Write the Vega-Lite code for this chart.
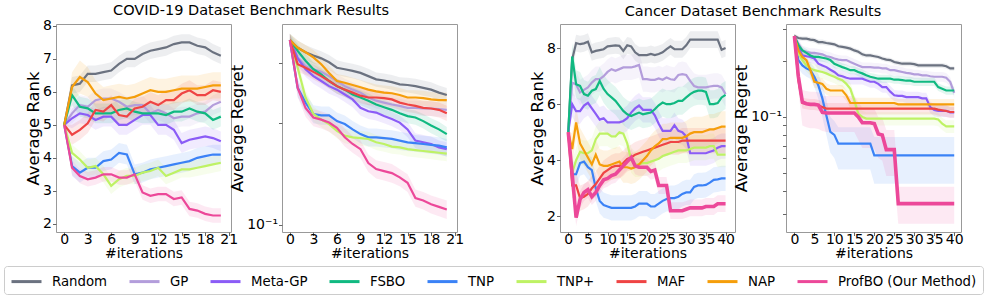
{
"$schema":"https://vega.github.io/schema/vega-lite/v6.json",
"padding":{"left":3,"top":2,"right":0,"bottom":0},
"config":{
"font":"DejaVu Sans",
"view":{"stroke":"#999999","strokeWidth":1},
"axis":{"grid":false,"domain":false,"tickColor":"#666666","tickSize":3.5,"labelFontSize":14,"labelColor":"#000000","titleColor":"#000000","titleFontWeight":"normal","labelFont":"DejaVu Sans","titleFont":"DejaVu Sans","labelOverlap":false,"labelFlush":false,"labelBound":false},
"axisX":{"titleFontSize":14,"labelPadding":-3.5,"titlePadding":0.5,"labelAngle":0},
"axisY":{"titleFontSize":16.5,"labelPadding":1,"titlePadding":1},
"title":{"fontSize":14.5,"fontWeight":"normal","color":"#000000","font":"DejaVu Sans"},
"legend":{"direction":"horizontal","columns":9,"symbolType":"M-1,0H2.75","symbolSize":256,"symbolStrokeWidth":3,"labelFontSize":13.3,"labelFont":"DejaVu Sans","labelColor":"#000000","labelOffset":23,"columnPadding":15,"padding":6,"strokeColor":"#cccccc","cornerRadius":3,"labelLimit":400,"rowPadding":0}
},
"datasets":{
"a":[
{"s":"Random","x":0,"y":5,"l":4.98,"h":5.02},{"s":"Random","x":1,"y":6.2,"l":5.95,"h":6.45},{"s":"Random","x":2,"y":6.25,"l":6,"h":6.5},{"s":"Random","x":3,"y":6.55,"l":6.3,"h":6.8},{"s":"Random","x":4,"y":6.55,"l":6.3,"h":6.8},{"s":"Random","x":5,"y":6.6,"l":6.35,"h":6.85},{"s":"Random","x":6,"y":6.65,"l":6.4,"h":6.9},{"s":"Random","x":7,"y":6.85,"l":6.6,"h":7.1},{"s":"Random","x":8,"y":7,"l":6.75,"h":7.25},{"s":"Random","x":9,"y":7,"l":6.75,"h":7.25},{"s":"Random","x":10,"y":7.15,"l":6.9,"h":7.4},{"s":"Random","x":11,"y":7.25,"l":7,"h":7.5},{"s":"Random","x":12,"y":7.3,"l":7.05,"h":7.55},{"s":"Random","x":13,"y":7.35,"l":7.1,"h":7.6},{"s":"Random","x":14,"y":7.45,"l":7.2,"h":7.7},{"s":"Random","x":15,"y":7.5,"l":7.25,"h":7.75},{"s":"Random","x":16,"y":7.5,"l":7.25,"h":7.75},{"s":"Random","x":17,"y":7.4,"l":7.15,"h":7.65},{"s":"Random","x":18,"y":7.35,"l":7.1,"h":7.6},{"s":"Random","x":19,"y":7.2,"l":6.95,"h":7.45},{"s":"Random","x":20,"y":7.1,"l":6.85,"h":7.35},
{"s":"GP","x":0,"y":5,"l":4.98,"h":5.02},{"s":"GP","x":1,"y":5.35,"l":5.05,"h":5.65},{"s":"GP","x":2,"y":5.6,"l":5.3,"h":5.9},{"s":"GP","x":3,"y":5.55,"l":5.25,"h":5.85},{"s":"GP","x":4,"y":5.75,"l":5.45,"h":6.05},{"s":"GP","x":5,"y":5.8,"l":5.5,"h":6.1},{"s":"GP","x":6,"y":5.8,"l":5.5,"h":6.1},{"s":"GP","x":7,"y":5.7,"l":5.4,"h":6},{"s":"GP","x":8,"y":5.55,"l":5.25,"h":5.85},{"s":"GP","x":9,"y":5.6,"l":5.3,"h":5.9},{"s":"GP","x":10,"y":5.6,"l":5.3,"h":5.9},{"s":"GP","x":11,"y":5.35,"l":5.05,"h":5.65},{"s":"GP","x":12,"y":5.45,"l":5.15,"h":5.75},{"s":"GP","x":13,"y":5.35,"l":5.05,"h":5.65},{"s":"GP","x":14,"y":5.2,"l":4.9,"h":5.5},{"s":"GP","x":15,"y":5.25,"l":4.95,"h":5.55},{"s":"GP","x":16,"y":5.25,"l":4.95,"h":5.55},{"s":"GP","x":17,"y":5.35,"l":5.05,"h":5.65},{"s":"GP","x":18,"y":5.4,"l":5.1,"h":5.7},{"s":"GP","x":19,"y":5.6,"l":5.3,"h":5.9},{"s":"GP","x":20,"y":5.7,"l":5.4,"h":6},
{"s":"Meta-GP","x":0,"y":5,"l":4.98,"h":5.02},{"s":"Meta-GP","x":1,"y":5.2,"l":4.9,"h":5.5},{"s":"Meta-GP","x":2,"y":5.35,"l":5.05,"h":5.65},{"s":"Meta-GP","x":3,"y":5.3,"l":5,"h":5.6},{"s":"Meta-GP","x":4,"y":5.15,"l":4.85,"h":5.45},{"s":"Meta-GP","x":5,"y":5.25,"l":4.95,"h":5.55},{"s":"Meta-GP","x":6,"y":5.25,"l":4.95,"h":5.55},{"s":"Meta-GP","x":7,"y":5,"l":4.7,"h":5.3},{"s":"Meta-GP","x":8,"y":5,"l":4.7,"h":5.3},{"s":"Meta-GP","x":9,"y":5.15,"l":4.85,"h":5.45},{"s":"Meta-GP","x":10,"y":5.3,"l":5,"h":5.6},{"s":"Meta-GP","x":11,"y":5.3,"l":5,"h":5.6},{"s":"Meta-GP","x":12,"y":5,"l":4.7,"h":5.3},{"s":"Meta-GP","x":13,"y":5,"l":4.7,"h":5.3},{"s":"Meta-GP","x":14,"y":4.85,"l":4.55,"h":5.15},{"s":"Meta-GP","x":15,"y":4.45,"l":4.15,"h":4.75},{"s":"Meta-GP","x":16,"y":4.55,"l":4.25,"h":4.85},{"s":"Meta-GP","x":17,"y":4.6,"l":4.3,"h":4.9},{"s":"Meta-GP","x":18,"y":4.65,"l":4.35,"h":4.95},{"s":"Meta-GP","x":19,"y":4.6,"l":4.3,"h":4.9},{"s":"Meta-GP","x":20,"y":4.5,"l":4.2,"h":4.8},
{"s":"FSBO","x":0,"y":5,"l":4.98,"h":5.02},{"s":"FSBO","x":1,"y":5.9,"l":5.6,"h":6.2},{"s":"FSBO","x":2,"y":5.55,"l":5.25,"h":5.85},{"s":"FSBO","x":3,"y":5.5,"l":5.2,"h":5.8},{"s":"FSBO","x":4,"y":5.35,"l":5.05,"h":5.65},{"s":"FSBO","x":5,"y":5.35,"l":5.05,"h":5.65},{"s":"FSBO","x":6,"y":5.35,"l":5.05,"h":5.65},{"s":"FSBO","x":7,"y":5.45,"l":5.15,"h":5.75},{"s":"FSBO","x":8,"y":5.5,"l":5.2,"h":5.8},{"s":"FSBO","x":9,"y":5.4,"l":5.1,"h":5.7},{"s":"FSBO","x":10,"y":5.35,"l":5.05,"h":5.65},{"s":"FSBO","x":11,"y":5.35,"l":5.05,"h":5.65},{"s":"FSBO","x":12,"y":5.35,"l":5.05,"h":5.65},{"s":"FSBO","x":13,"y":5.3,"l":5,"h":5.6},{"s":"FSBO","x":14,"y":5.4,"l":5.1,"h":5.7},{"s":"FSBO","x":15,"y":5.4,"l":5.1,"h":5.7},{"s":"FSBO","x":16,"y":5.5,"l":5.2,"h":5.8},{"s":"FSBO","x":17,"y":5.4,"l":5.1,"h":5.7},{"s":"FSBO","x":18,"y":5.35,"l":5.05,"h":5.65},{"s":"FSBO","x":19,"y":5.15,"l":4.85,"h":5.45},{"s":"FSBO","x":20,"y":5.25,"l":4.95,"h":5.55},
{"s":"TNP","x":0,"y":5,"l":4.98,"h":5.02},{"s":"TNP","x":1,"y":3.75,"l":3.45,"h":4.05},{"s":"TNP","x":2,"y":3.55,"l":3.25,"h":3.85},{"s":"TNP","x":3,"y":3.7,"l":3.4,"h":4},{"s":"TNP","x":4,"y":3.7,"l":3.4,"h":4},{"s":"TNP","x":5,"y":3.9,"l":3.6,"h":4.2},{"s":"TNP","x":6,"y":3.95,"l":3.65,"h":4.25},{"s":"TNP","x":7,"y":4.15,"l":3.85,"h":4.45},{"s":"TNP","x":8,"y":4.1,"l":3.8,"h":4.4},{"s":"TNP","x":9,"y":3.5,"l":3.2,"h":3.8},{"s":"TNP","x":10,"y":3.55,"l":3.25,"h":3.85},{"s":"TNP","x":11,"y":3.65,"l":3.35,"h":3.95},{"s":"TNP","x":12,"y":3.7,"l":3.4,"h":4},{"s":"TNP","x":13,"y":3.75,"l":3.45,"h":4.05},{"s":"TNP","x":14,"y":3.8,"l":3.5,"h":4.1},{"s":"TNP","x":15,"y":3.85,"l":3.55,"h":4.15},{"s":"TNP","x":16,"y":3.9,"l":3.6,"h":4.2},{"s":"TNP","x":17,"y":4,"l":3.7,"h":4.3},{"s":"TNP","x":18,"y":4.05,"l":3.75,"h":4.35},{"s":"TNP","x":19,"y":4.1,"l":3.8,"h":4.4},{"s":"TNP","x":20,"y":4.1,"l":3.8,"h":4.4},
{"s":"TNP+","x":0,"y":5,"l":4.98,"h":5.02},{"s":"TNP+","x":1,"y":4.15,"l":3.9,"h":4.4},{"s":"TNP+","x":2,"y":3.95,"l":3.7,"h":4.2},{"s":"TNP+","x":3,"y":3.7,"l":3.45,"h":3.95},{"s":"TNP+","x":4,"y":3.75,"l":3.5,"h":4},{"s":"TNP+","x":5,"y":3.5,"l":3.25,"h":3.75},{"s":"TNP+","x":6,"y":3.15,"l":2.9,"h":3.4},{"s":"TNP+","x":7,"y":3.35,"l":3.1,"h":3.6},{"s":"TNP+","x":8,"y":3.45,"l":3.2,"h":3.7},{"s":"TNP+","x":9,"y":3.45,"l":3.2,"h":3.7},{"s":"TNP+","x":10,"y":3.55,"l":3.3,"h":3.8},{"s":"TNP+","x":11,"y":3.6,"l":3.35,"h":3.85},{"s":"TNP+","x":12,"y":3.7,"l":3.45,"h":3.95},{"s":"TNP+","x":13,"y":3.45,"l":3.2,"h":3.7},{"s":"TNP+","x":14,"y":3.55,"l":3.3,"h":3.8},{"s":"TNP+","x":15,"y":3.65,"l":3.4,"h":3.9},{"s":"TNP+","x":16,"y":3.65,"l":3.4,"h":3.9},{"s":"TNP+","x":17,"y":3.7,"l":3.45,"h":3.95},{"s":"TNP+","x":18,"y":3.75,"l":3.5,"h":4},{"s":"TNP+","x":19,"y":3.8,"l":3.55,"h":4.05},{"s":"TNP+","x":20,"y":3.85,"l":3.6,"h":4.1},
{"s":"MAF","x":0,"y":5,"l":4.98,"h":5.02},{"s":"MAF","x":1,"y":4.7,"l":4.4,"h":5},{"s":"MAF","x":2,"y":4.85,"l":4.55,"h":5.15},{"s":"MAF","x":3,"y":5.05,"l":4.75,"h":5.35},{"s":"MAF","x":4,"y":5.45,"l":5.15,"h":5.75},{"s":"MAF","x":5,"y":5.4,"l":5.1,"h":5.7},{"s":"MAF","x":6,"y":5.6,"l":5.3,"h":5.9},{"s":"MAF","x":7,"y":5.3,"l":5,"h":5.6},{"s":"MAF","x":8,"y":5.25,"l":4.95,"h":5.55},{"s":"MAF","x":9,"y":5.5,"l":5.2,"h":5.8},{"s":"MAF","x":10,"y":5.55,"l":5.25,"h":5.85},{"s":"MAF","x":11,"y":5.7,"l":5.4,"h":6},{"s":"MAF","x":12,"y":5.6,"l":5.3,"h":5.9},{"s":"MAF","x":13,"y":5.75,"l":5.45,"h":6.05},{"s":"MAF","x":14,"y":5.75,"l":5.45,"h":6.05},{"s":"MAF","x":15,"y":5.95,"l":5.65,"h":6.25},{"s":"MAF","x":16,"y":6.05,"l":5.75,"h":6.35},{"s":"MAF","x":17,"y":5.9,"l":5.6,"h":6.2},{"s":"MAF","x":18,"y":5.9,"l":5.6,"h":6.2},{"s":"MAF","x":19,"y":6.05,"l":5.75,"h":6.35},{"s":"MAF","x":20,"y":6,"l":5.7,"h":6.3},
{"s":"NAP","x":0,"y":5,"l":4.98,"h":5.02},{"s":"NAP","x":1,"y":6.15,"l":5.7,"h":6.6},{"s":"NAP","x":2,"y":6.45,"l":5.95,"h":6.95},{"s":"NAP","x":3,"y":6.3,"l":5.85,"h":6.75},{"s":"NAP","x":4,"y":5.95,"l":5.55,"h":6.35},{"s":"NAP","x":5,"y":5.75,"l":5.35,"h":6.15},{"s":"NAP","x":6,"y":5.8,"l":5.4,"h":6.2},{"s":"NAP","x":7,"y":5.85,"l":5.45,"h":6.25},{"s":"NAP","x":8,"y":5.8,"l":5.4,"h":6.2},{"s":"NAP","x":9,"y":5.85,"l":5.45,"h":6.25},{"s":"NAP","x":10,"y":5.95,"l":5.55,"h":6.35},{"s":"NAP","x":11,"y":6.05,"l":5.65,"h":6.45},{"s":"NAP","x":12,"y":6,"l":5.6,"h":6.4},{"s":"NAP","x":13,"y":6,"l":5.6,"h":6.4},{"s":"NAP","x":14,"y":6.05,"l":5.65,"h":6.45},{"s":"NAP","x":15,"y":6.1,"l":5.7,"h":6.5},{"s":"NAP","x":16,"y":6.1,"l":5.7,"h":6.5},{"s":"NAP","x":17,"y":6.1,"l":5.7,"h":6.5},{"s":"NAP","x":18,"y":6.15,"l":5.75,"h":6.55},{"s":"NAP","x":19,"y":6.2,"l":5.8,"h":6.6},{"s":"NAP","x":20,"y":6.2,"l":5.8,"h":6.6},
{"s":"ProfBO","x":0,"y":5,"l":4.98,"h":5.02},{"s":"ProfBO","x":1,"y":3.7,"l":3.48,"h":3.92},{"s":"ProfBO","x":2,"y":3.45,"l":3.23,"h":3.67},{"s":"ProfBO","x":3,"y":3.35,"l":3.13,"h":3.57},{"s":"ProfBO","x":4,"y":3.4,"l":3.18,"h":3.62},{"s":"ProfBO","x":5,"y":3.5,"l":3.28,"h":3.72},{"s":"ProfBO","x":6,"y":3.5,"l":3.28,"h":3.72},{"s":"ProfBO","x":7,"y":3.4,"l":3.18,"h":3.62},{"s":"ProfBO","x":8,"y":3.4,"l":3.18,"h":3.62},{"s":"ProfBO","x":9,"y":3.5,"l":3.28,"h":3.72},{"s":"ProfBO","x":10,"y":2.95,"l":2.73,"h":3.17},{"s":"ProfBO","x":11,"y":2.85,"l":2.63,"h":3.07},{"s":"ProfBO","x":12,"y":2.9,"l":2.68,"h":3.12},{"s":"ProfBO","x":13,"y":2.9,"l":2.68,"h":3.12},{"s":"ProfBO","x":14,"y":2.75,"l":2.53,"h":2.97},{"s":"ProfBO","x":15,"y":2.8,"l":2.58,"h":3.02},{"s":"ProfBO","x":16,"y":2.45,"l":2.23,"h":2.67},{"s":"ProfBO","x":17,"y":2.4,"l":2.18,"h":2.62},{"s":"ProfBO","x":18,"y":2.3,"l":2.08,"h":2.52},{"s":"ProfBO","x":19,"y":2.25,"l":2.03,"h":2.47},{"s":"ProfBO","x":20,"y":2.25,"l":2.03,"h":2.47}
],
"b":[
{"s":"Random","x":0,"y":0.35,"l":0.335,"h":0.365},{"s":"Random","x":1,"y":0.332,"l":0.315,"h":0.349},{"s":"Random","x":2,"y":0.322,"l":0.306,"h":0.338},{"s":"Random","x":3,"y":0.315,"l":0.299,"h":0.331},{"s":"Random","x":4,"y":0.309,"l":0.294,"h":0.324},{"s":"Random","x":5,"y":0.301,"l":0.286,"h":0.316},{"s":"Random","x":6,"y":0.29,"l":0.276,"h":0.305},{"s":"Random","x":7,"y":0.287,"l":0.273,"h":0.301},{"s":"Random","x":8,"y":0.284,"l":0.27,"h":0.298},{"s":"Random","x":9,"y":0.28,"l":0.266,"h":0.294},{"s":"Random","x":10,"y":0.274,"l":0.26,"h":0.288},{"s":"Random","x":11,"y":0.268,"l":0.255,"h":0.281},{"s":"Random","x":12,"y":0.266,"l":0.253,"h":0.279},{"s":"Random","x":13,"y":0.263,"l":0.25,"h":0.276},{"s":"Random","x":14,"y":0.259,"l":0.246,"h":0.272},{"s":"Random","x":15,"y":0.258,"l":0.245,"h":0.271},{"s":"Random","x":16,"y":0.256,"l":0.243,"h":0.269},{"s":"Random","x":17,"y":0.253,"l":0.24,"h":0.266},{"s":"Random","x":18,"y":0.25,"l":0.238,"h":0.263},{"s":"Random","x":19,"y":0.245,"l":0.233,"h":0.257},{"s":"Random","x":20,"y":0.241,"l":0.229,"h":0.253},
{"s":"GP","x":0,"y":0.35,"l":0.335,"h":0.365},{"s":"GP","x":1,"y":0.311,"l":0.295,"h":0.327},{"s":"GP","x":2,"y":0.293,"l":0.278,"h":0.308},{"s":"GP","x":3,"y":0.287,"l":0.273,"h":0.301},{"s":"GP","x":4,"y":0.282,"l":0.268,"h":0.296},{"s":"GP","x":5,"y":0.274,"l":0.26,"h":0.288},{"s":"GP","x":6,"y":0.265,"l":0.252,"h":0.278},{"s":"GP","x":7,"y":0.256,"l":0.243,"h":0.269},{"s":"GP","x":8,"y":0.25,"l":0.238,"h":0.263},{"s":"GP","x":9,"y":0.245,"l":0.233,"h":0.257},{"s":"GP","x":10,"y":0.237,"l":0.225,"h":0.249},{"s":"GP","x":11,"y":0.232,"l":0.22,"h":0.244},{"s":"GP","x":12,"y":0.229,"l":0.218,"h":0.24},{"s":"GP","x":13,"y":0.226,"l":0.215,"h":0.237},{"s":"GP","x":14,"y":0.224,"l":0.213,"h":0.235},{"s":"GP","x":15,"y":0.221,"l":0.21,"h":0.232},{"s":"GP","x":16,"y":0.221,"l":0.21,"h":0.232},{"s":"GP","x":17,"y":0.22,"l":0.209,"h":0.231},{"s":"GP","x":18,"y":0.22,"l":0.209,"h":0.231},{"s":"GP","x":19,"y":0.219,"l":0.208,"h":0.23},{"s":"GP","x":20,"y":0.218,"l":0.207,"h":0.229},
{"s":"Meta-GP","x":0,"y":0.35,"l":0.335,"h":0.365},{"s":"Meta-GP","x":1,"y":0.309,"l":0.294,"h":0.324},{"s":"Meta-GP","x":2,"y":0.287,"l":0.273,"h":0.301},{"s":"Meta-GP","x":3,"y":0.274,"l":0.26,"h":0.288},{"s":"Meta-GP","x":4,"y":0.265,"l":0.252,"h":0.278},{"s":"Meta-GP","x":5,"y":0.256,"l":0.243,"h":0.269},{"s":"Meta-GP","x":6,"y":0.25,"l":0.238,"h":0.263},{"s":"Meta-GP","x":7,"y":0.242,"l":0.23,"h":0.254},{"s":"Meta-GP","x":8,"y":0.234,"l":0.222,"h":0.246},{"s":"Meta-GP","x":9,"y":0.221,"l":0.21,"h":0.232},{"s":"Meta-GP","x":10,"y":0.216,"l":0.205,"h":0.227},{"s":"Meta-GP","x":11,"y":0.214,"l":0.203,"h":0.225},{"s":"Meta-GP","x":12,"y":0.209,"l":0.199,"h":0.219},{"s":"Meta-GP","x":13,"y":0.205,"l":0.195,"h":0.215},{"s":"Meta-GP","x":14,"y":0.2,"l":0.19,"h":0.21},{"s":"Meta-GP","x":15,"y":0.191,"l":0.181,"h":0.201},{"s":"Meta-GP","x":16,"y":0.177,"l":0.168,"h":0.186},{"s":"Meta-GP","x":17,"y":0.175,"l":0.166,"h":0.184},{"s":"Meta-GP","x":18,"y":0.173,"l":0.164,"h":0.182},{"s":"Meta-GP","x":19,"y":0.169,"l":0.161,"h":0.177},{"s":"Meta-GP","x":20,"y":0.167,"l":0.159,"h":0.175},
{"s":"FSBO","x":0,"y":0.35,"l":0.335,"h":0.365},{"s":"FSBO","x":1,"y":0.325,"l":0.309,"h":0.341},{"s":"FSBO","x":2,"y":0.304,"l":0.289,"h":0.319},{"s":"FSBO","x":3,"y":0.287,"l":0.273,"h":0.301},{"s":"FSBO","x":4,"y":0.277,"l":0.263,"h":0.291},{"s":"FSBO","x":5,"y":0.265,"l":0.252,"h":0.278},{"s":"FSBO","x":6,"y":0.256,"l":0.243,"h":0.269},{"s":"FSBO","x":7,"y":0.25,"l":0.238,"h":0.263},{"s":"FSBO","x":8,"y":0.242,"l":0.23,"h":0.254},{"s":"FSBO","x":9,"y":0.237,"l":0.225,"h":0.249},{"s":"FSBO","x":10,"y":0.232,"l":0.22,"h":0.244},{"s":"FSBO","x":11,"y":0.226,"l":0.215,"h":0.237},{"s":"FSBO","x":12,"y":0.222,"l":0.211,"h":0.233},{"s":"FSBO","x":13,"y":0.218,"l":0.207,"h":0.229},{"s":"FSBO","x":14,"y":0.213,"l":0.202,"h":0.224},{"s":"FSBO","x":15,"y":0.209,"l":0.199,"h":0.219},{"s":"FSBO","x":16,"y":0.207,"l":0.197,"h":0.217},{"s":"FSBO","x":17,"y":0.202,"l":0.192,"h":0.212},{"s":"FSBO","x":18,"y":0.196,"l":0.186,"h":0.206},{"s":"FSBO","x":19,"y":0.191,"l":0.181,"h":0.201},{"s":"FSBO","x":20,"y":0.185,"l":0.176,"h":0.194},
{"s":"TNP","x":0,"y":0.35,"l":0.335,"h":0.365},{"s":"TNP","x":1,"y":0.253,"l":0.238,"h":0.268},{"s":"TNP","x":2,"y":0.229,"l":0.215,"h":0.243},{"s":"TNP","x":3,"y":0.212,"l":0.199,"h":0.225},{"s":"TNP","x":4,"y":0.21,"l":0.197,"h":0.223},{"s":"TNP","x":5,"y":0.21,"l":0.197,"h":0.223},{"s":"TNP","x":6,"y":0.202,"l":0.19,"h":0.214},{"s":"TNP","x":7,"y":0.198,"l":0.186,"h":0.21},{"s":"TNP","x":8,"y":0.191,"l":0.18,"h":0.202},{"s":"TNP","x":9,"y":0.185,"l":0.174,"h":0.196},{"s":"TNP","x":10,"y":0.181,"l":0.17,"h":0.192},{"s":"TNP","x":11,"y":0.181,"l":0.17,"h":0.192},{"s":"TNP","x":12,"y":0.18,"l":0.169,"h":0.191},{"s":"TNP","x":13,"y":0.179,"l":0.168,"h":0.19},{"s":"TNP","x":14,"y":0.177,"l":0.166,"h":0.188},{"s":"TNP","x":15,"y":0.175,"l":0.165,"h":0.186},{"s":"TNP","x":16,"y":0.174,"l":0.164,"h":0.184},{"s":"TNP","x":17,"y":0.173,"l":0.163,"h":0.183},{"s":"TNP","x":18,"y":0.172,"l":0.162,"h":0.182},{"s":"TNP","x":19,"y":0.171,"l":0.161,"h":0.181},{"s":"TNP","x":20,"y":0.169,"l":0.159,"h":0.179},
{"s":"TNP+","x":0,"y":0.35,"l":0.335,"h":0.365},{"s":"TNP+","x":1,"y":0.29,"l":0.276,"h":0.305},{"s":"TNP+","x":2,"y":0.237,"l":0.225,"h":0.249},{"s":"TNP+","x":3,"y":0.212,"l":0.201,"h":0.223},{"s":"TNP+","x":4,"y":0.204,"l":0.194,"h":0.214},{"s":"TNP+","x":5,"y":0.198,"l":0.188,"h":0.208},{"s":"TNP+","x":6,"y":0.189,"l":0.18,"h":0.198},{"s":"TNP+","x":7,"y":0.183,"l":0.174,"h":0.192},{"s":"TNP+","x":8,"y":0.181,"l":0.172,"h":0.19},{"s":"TNP+","x":9,"y":0.18,"l":0.171,"h":0.189},{"s":"TNP+","x":10,"y":0.179,"l":0.17,"h":0.188},{"s":"TNP+","x":11,"y":0.175,"l":0.166,"h":0.184},{"s":"TNP+","x":12,"y":0.173,"l":0.164,"h":0.182},{"s":"TNP+","x":13,"y":0.17,"l":0.162,"h":0.179},{"s":"TNP+","x":14,"y":0.169,"l":0.161,"h":0.177},{"s":"TNP+","x":15,"y":0.167,"l":0.159,"h":0.175},{"s":"TNP+","x":16,"y":0.166,"l":0.158,"h":0.174},{"s":"TNP+","x":17,"y":0.165,"l":0.157,"h":0.173},{"s":"TNP+","x":18,"y":0.164,"l":0.156,"h":0.172},{"s":"TNP+","x":19,"y":0.163,"l":0.155,"h":0.171},{"s":"TNP+","x":20,"y":0.162,"l":0.154,"h":0.17},
{"s":"MAF","x":0,"y":0.35,"l":0.335,"h":0.365},{"s":"MAF","x":1,"y":0.297,"l":0.282,"h":0.312},{"s":"MAF","x":2,"y":0.29,"l":0.276,"h":0.305},{"s":"MAF","x":3,"y":0.282,"l":0.268,"h":0.296},{"s":"MAF","x":4,"y":0.274,"l":0.26,"h":0.288},{"s":"MAF","x":5,"y":0.265,"l":0.252,"h":0.278},{"s":"MAF","x":6,"y":0.256,"l":0.243,"h":0.269},{"s":"MAF","x":7,"y":0.25,"l":0.238,"h":0.263},{"s":"MAF","x":8,"y":0.245,"l":0.233,"h":0.257},{"s":"MAF","x":9,"y":0.24,"l":0.228,"h":0.252},{"s":"MAF","x":10,"y":0.237,"l":0.225,"h":0.249},{"s":"MAF","x":11,"y":0.237,"l":0.225,"h":0.249},{"s":"MAF","x":12,"y":0.236,"l":0.224,"h":0.248},{"s":"MAF","x":13,"y":0.234,"l":0.222,"h":0.246},{"s":"MAF","x":14,"y":0.229,"l":0.218,"h":0.24},{"s":"MAF","x":15,"y":0.226,"l":0.215,"h":0.237},{"s":"MAF","x":16,"y":0.224,"l":0.213,"h":0.235},{"s":"MAF","x":17,"y":0.221,"l":0.21,"h":0.232},{"s":"MAF","x":18,"y":0.22,"l":0.209,"h":0.231},{"s":"MAF","x":19,"y":0.218,"l":0.207,"h":0.229},{"s":"MAF","x":20,"y":0.213,"l":0.202,"h":0.224},
{"s":"NAP","x":0,"y":0.35,"l":0.335,"h":0.365},{"s":"NAP","x":1,"y":0.332,"l":0.315,"h":0.349},{"s":"NAP","x":2,"y":0.322,"l":0.306,"h":0.338},{"s":"NAP","x":3,"y":0.311,"l":0.295,"h":0.327},{"s":"NAP","x":4,"y":0.297,"l":0.282,"h":0.312},{"s":"NAP","x":5,"y":0.28,"l":0.266,"h":0.294},{"s":"NAP","x":6,"y":0.265,"l":0.252,"h":0.278},{"s":"NAP","x":7,"y":0.262,"l":0.249,"h":0.275},{"s":"NAP","x":8,"y":0.258,"l":0.245,"h":0.271},{"s":"NAP","x":9,"y":0.254,"l":0.241,"h":0.267},{"s":"NAP","x":10,"y":0.25,"l":0.238,"h":0.263},{"s":"NAP","x":11,"y":0.247,"l":0.235,"h":0.259},{"s":"NAP","x":12,"y":0.245,"l":0.233,"h":0.257},{"s":"NAP","x":13,"y":0.244,"l":0.232,"h":0.256},{"s":"NAP","x":14,"y":0.241,"l":0.229,"h":0.253},{"s":"NAP","x":15,"y":0.237,"l":0.225,"h":0.249},{"s":"NAP","x":16,"y":0.237,"l":0.225,"h":0.249},{"s":"NAP","x":17,"y":0.236,"l":0.224,"h":0.248},{"s":"NAP","x":18,"y":0.234,"l":0.222,"h":0.246},{"s":"NAP","x":19,"y":0.233,"l":0.221,"h":0.245},{"s":"NAP","x":20,"y":0.233,"l":0.221,"h":0.245},
{"s":"ProfBO","x":0,"y":0.35,"l":0.335,"h":0.365},{"s":"ProfBO","x":1,"y":0.253,"l":0.238,"h":0.268},{"s":"ProfBO","x":2,"y":0.221,"l":0.208,"h":0.234},{"s":"ProfBO","x":3,"y":0.207,"l":0.195,"h":0.219},{"s":"ProfBO","x":4,"y":0.204,"l":0.192,"h":0.216},{"s":"ProfBO","x":5,"y":0.2,"l":0.188,"h":0.212},{"s":"ProfBO","x":6,"y":0.193,"l":0.181,"h":0.205},{"s":"ProfBO","x":7,"y":0.181,"l":0.17,"h":0.192},{"s":"ProfBO","x":8,"y":0.173,"l":0.163,"h":0.183},{"s":"ProfBO","x":9,"y":0.167,"l":0.157,"h":0.177},{"s":"ProfBO","x":10,"y":0.152,"l":0.143,"h":0.161},{"s":"ProfBO","x":11,"y":0.146,"l":0.137,"h":0.155},{"s":"ProfBO","x":12,"y":0.144,"l":0.135,"h":0.153},{"s":"ProfBO","x":13,"y":0.142,"l":0.133,"h":0.151},{"s":"ProfBO","x":14,"y":0.138,"l":0.13,"h":0.146},{"s":"ProfBO","x":15,"y":0.133,"l":0.125,"h":0.141},{"s":"ProfBO","x":16,"y":0.12,"l":0.113,"h":0.127},{"s":"ProfBO","x":17,"y":0.118,"l":0.111,"h":0.125},{"s":"ProfBO","x":18,"y":0.115,"l":0.108,"h":0.122},{"s":"ProfBO","x":19,"y":0.113,"l":0.106,"h":0.12},{"s":"ProfBO","x":20,"y":0.111,"l":0.104,"h":0.118}
],
"c":[
{"s":"Random","x":0,"y":5,"l":4.95,"h":5.05},{"s":"Random","x":1,"y":7.6,"l":7.3,"h":7.9},{"s":"Random","x":2,"y":8.18,"l":7.88,"h":8.48},{"s":"Random","x":3,"y":8.14,"l":7.84,"h":8.44},{"s":"Random","x":4,"y":8.17,"l":7.87,"h":8.47},{"s":"Random","x":5,"y":8.23,"l":7.93,"h":8.53},{"s":"Random","x":6,"y":7.85,"l":7.55,"h":8.15},{"s":"Random","x":7,"y":7.9,"l":7.6,"h":8.2},{"s":"Random","x":8,"y":7.93,"l":7.63,"h":8.23},{"s":"Random","x":9,"y":7.96,"l":7.66,"h":8.26},{"s":"Random","x":10,"y":8.06,"l":7.76,"h":8.36},{"s":"Random","x":11,"y":8.08,"l":7.78,"h":8.38},{"s":"Random","x":12,"y":8.1,"l":7.8,"h":8.4},{"s":"Random","x":13,"y":8.08,"l":7.78,"h":8.38},{"s":"Random","x":14,"y":7.9,"l":7.6,"h":8.2},{"s":"Random","x":15,"y":8.1,"l":7.8,"h":8.4},{"s":"Random","x":16,"y":8.06,"l":7.76,"h":8.36},{"s":"Random","x":17,"y":7.85,"l":7.55,"h":8.15},{"s":"Random","x":18,"y":7.75,"l":7.45,"h":8.05},{"s":"Random","x":19,"y":7.75,"l":7.45,"h":8.05},{"s":"Random","x":20,"y":7.75,"l":7.45,"h":8.05},{"s":"Random","x":21,"y":7.79,"l":7.49,"h":8.09},{"s":"Random","x":22,"y":7.75,"l":7.45,"h":8.05},{"s":"Random","x":23,"y":7.79,"l":7.49,"h":8.09},{"s":"Random","x":24,"y":7.85,"l":7.55,"h":8.15},{"s":"Random","x":25,"y":7.96,"l":7.66,"h":8.26},{"s":"Random","x":26,"y":8.06,"l":7.76,"h":8.36},{"s":"Random","x":27,"y":7.96,"l":7.66,"h":8.26},{"s":"Random","x":28,"y":7.96,"l":7.66,"h":8.26},{"s":"Random","x":29,"y":7.96,"l":7.66,"h":8.26},{"s":"Random","x":30,"y":8.1,"l":7.8,"h":8.4},{"s":"Random","x":31,"y":8.3,"l":8,"h":8.6},{"s":"Random","x":32,"y":8.3,"l":8,"h":8.6},{"s":"Random","x":33,"y":8.3,"l":8,"h":8.6},{"s":"Random","x":34,"y":8.3,"l":8,"h":8.6},{"s":"Random","x":35,"y":8.3,"l":8,"h":8.6},{"s":"Random","x":36,"y":8.3,"l":8,"h":8.6},{"s":"Random","x":37,"y":8.3,"l":8,"h":8.6},{"s":"Random","x":38,"y":8.3,"l":8,"h":8.6},{"s":"Random","x":39,"y":7.94,"l":7.64,"h":8.24},{"s":"Random","x":40,"y":8,"l":7.7,"h":8.3},
{"s":"GP","x":0,"y":5,"l":4.95,"h":5.05},{"s":"GP","x":1,"y":6.77,"l":6.32,"h":7.22},{"s":"GP","x":2,"y":6.7,"l":6.25,"h":7.15},{"s":"GP","x":3,"y":6.42,"l":5.97,"h":6.87},{"s":"GP","x":4,"y":6.51,"l":6.06,"h":6.96},{"s":"GP","x":5,"y":6.6,"l":6.15,"h":7.05},{"s":"GP","x":6,"y":6.77,"l":6.32,"h":7.22},{"s":"GP","x":7,"y":6.89,"l":6.44,"h":7.34},{"s":"GP","x":8,"y":6.89,"l":6.44,"h":7.34},{"s":"GP","x":9,"y":7,"l":6.55,"h":7.45},{"s":"GP","x":10,"y":7.15,"l":6.7,"h":7.6},{"s":"GP","x":11,"y":7.25,"l":6.8,"h":7.7},{"s":"GP","x":12,"y":7.19,"l":6.74,"h":7.64},{"s":"GP","x":13,"y":7.25,"l":6.8,"h":7.7},{"s":"GP","x":14,"y":7.31,"l":6.86,"h":7.76},{"s":"GP","x":15,"y":7.31,"l":6.86,"h":7.76},{"s":"GP","x":16,"y":7.31,"l":6.86,"h":7.76},{"s":"GP","x":17,"y":7.35,"l":6.9,"h":7.8},{"s":"GP","x":18,"y":7.4,"l":6.95,"h":7.85},{"s":"GP","x":19,"y":6.89,"l":6.44,"h":7.34},{"s":"GP","x":20,"y":6.89,"l":6.44,"h":7.34},{"s":"GP","x":21,"y":6.87,"l":6.42,"h":7.32},{"s":"GP","x":22,"y":6.87,"l":6.42,"h":7.32},{"s":"GP","x":23,"y":6.92,"l":6.47,"h":7.37},{"s":"GP","x":24,"y":6.87,"l":6.42,"h":7.32},{"s":"GP","x":25,"y":6.95,"l":6.5,"h":7.4},{"s":"GP","x":26,"y":6.89,"l":6.44,"h":7.34},{"s":"GP","x":27,"y":6.87,"l":6.42,"h":7.32},{"s":"GP","x":28,"y":7.04,"l":6.59,"h":7.49},{"s":"GP","x":29,"y":7.07,"l":6.62,"h":7.52},{"s":"GP","x":30,"y":7.04,"l":6.59,"h":7.49},{"s":"GP","x":31,"y":6.83,"l":6.38,"h":7.28},{"s":"GP","x":32,"y":6.65,"l":6.2,"h":7.1},{"s":"GP","x":33,"y":6.6,"l":6.15,"h":7.05},{"s":"GP","x":34,"y":6.6,"l":6.15,"h":7.05},{"s":"GP","x":35,"y":6.6,"l":6.15,"h":7.05},{"s":"GP","x":36,"y":6.63,"l":6.18,"h":7.08},{"s":"GP","x":37,"y":6.65,"l":6.2,"h":7.1},{"s":"GP","x":38,"y":6.65,"l":6.2,"h":7.1},{"s":"GP","x":39,"y":6.6,"l":6.15,"h":7.05},{"s":"GP","x":40,"y":6.36,"l":5.91,"h":6.81},
{"s":"Meta-GP","x":0,"y":5,"l":4.95,"h":5.05},{"s":"Meta-GP","x":1,"y":6,"l":5.55,"h":6.45},{"s":"Meta-GP","x":2,"y":5.75,"l":5.3,"h":6.2},{"s":"Meta-GP","x":3,"y":5.75,"l":5.3,"h":6.2},{"s":"Meta-GP","x":4,"y":5.95,"l":5.5,"h":6.4},{"s":"Meta-GP","x":5,"y":6.05,"l":5.6,"h":6.5},{"s":"Meta-GP","x":6,"y":5.85,"l":5.4,"h":6.3},{"s":"Meta-GP","x":7,"y":5.65,"l":5.2,"h":6.1},{"s":"Meta-GP","x":8,"y":5.45,"l":5,"h":5.9},{"s":"Meta-GP","x":9,"y":5.5,"l":5.05,"h":5.95},{"s":"Meta-GP","x":10,"y":5.35,"l":4.9,"h":5.8},{"s":"Meta-GP","x":11,"y":5.35,"l":4.9,"h":5.8},{"s":"Meta-GP","x":12,"y":5.35,"l":4.9,"h":5.8},{"s":"Meta-GP","x":13,"y":5.35,"l":4.9,"h":5.8},{"s":"Meta-GP","x":14,"y":5.4,"l":4.95,"h":5.85},{"s":"Meta-GP","x":15,"y":5.5,"l":5.05,"h":5.95},{"s":"Meta-GP","x":16,"y":5.7,"l":5.25,"h":6.15},{"s":"Meta-GP","x":17,"y":5.85,"l":5.4,"h":6.3},{"s":"Meta-GP","x":18,"y":5.95,"l":5.5,"h":6.4},{"s":"Meta-GP","x":19,"y":5.8,"l":5.35,"h":6.25},{"s":"Meta-GP","x":20,"y":5.8,"l":5.35,"h":6.25},{"s":"Meta-GP","x":21,"y":5.8,"l":5.35,"h":6.25},{"s":"Meta-GP","x":22,"y":5.6,"l":5.15,"h":6.05},{"s":"Meta-GP","x":23,"y":5.3,"l":4.85,"h":5.75},{"s":"Meta-GP","x":24,"y":5.05,"l":4.6,"h":5.5},{"s":"Meta-GP","x":25,"y":5.05,"l":4.6,"h":5.5},{"s":"Meta-GP","x":26,"y":5.05,"l":4.6,"h":5.5},{"s":"Meta-GP","x":27,"y":5.25,"l":4.8,"h":5.7},{"s":"Meta-GP","x":28,"y":5.05,"l":4.6,"h":5.5},{"s":"Meta-GP","x":29,"y":5,"l":4.55,"h":5.45},{"s":"Meta-GP","x":30,"y":4.85,"l":4.4,"h":5.3},{"s":"Meta-GP","x":31,"y":4.25,"l":3.8,"h":4.7},{"s":"Meta-GP","x":32,"y":4.25,"l":3.8,"h":4.7},{"s":"Meta-GP","x":33,"y":4.25,"l":3.8,"h":4.7},{"s":"Meta-GP","x":34,"y":4.25,"l":3.8,"h":4.7},{"s":"Meta-GP","x":35,"y":4.25,"l":3.8,"h":4.7},{"s":"Meta-GP","x":36,"y":4.3,"l":3.85,"h":4.75},{"s":"Meta-GP","x":37,"y":4.35,"l":3.9,"h":4.8},{"s":"Meta-GP","x":38,"y":4.45,"l":4,"h":4.9},{"s":"Meta-GP","x":39,"y":4.5,"l":4.05,"h":4.95},{"s":"Meta-GP","x":40,"y":4.5,"l":4.05,"h":4.95},
{"s":"FSBO","x":0,"y":5,"l":4.95,"h":5.05},{"s":"FSBO","x":1,"y":7.7,"l":7.2,"h":8.2},{"s":"FSBO","x":2,"y":6.71,"l":6.21,"h":7.21},{"s":"FSBO","x":3,"y":6.65,"l":6.15,"h":7.15},{"s":"FSBO","x":4,"y":6.36,"l":5.86,"h":6.86},{"s":"FSBO","x":5,"y":6.3,"l":5.8,"h":6.8},{"s":"FSBO","x":6,"y":6.48,"l":5.98,"h":6.98},{"s":"FSBO","x":7,"y":6.54,"l":6.04,"h":7.04},{"s":"FSBO","x":8,"y":6.83,"l":6.33,"h":7.33},{"s":"FSBO","x":9,"y":6.54,"l":6.04,"h":7.04},{"s":"FSBO","x":10,"y":6.36,"l":5.86,"h":6.86},{"s":"FSBO","x":11,"y":6.24,"l":5.74,"h":6.74},{"s":"FSBO","x":12,"y":6.12,"l":5.62,"h":6.62},{"s":"FSBO","x":13,"y":5.94,"l":5.44,"h":6.44},{"s":"FSBO","x":14,"y":5.76,"l":5.26,"h":6.26},{"s":"FSBO","x":15,"y":5.64,"l":5.14,"h":6.14},{"s":"FSBO","x":16,"y":5.58,"l":5.08,"h":6.08},{"s":"FSBO","x":17,"y":5.64,"l":5.14,"h":6.14},{"s":"FSBO","x":18,"y":5.7,"l":5.2,"h":6.2},{"s":"FSBO","x":19,"y":5.64,"l":5.14,"h":6.14},{"s":"FSBO","x":20,"y":5.67,"l":5.17,"h":6.17},{"s":"FSBO","x":21,"y":5.7,"l":5.2,"h":6.2},{"s":"FSBO","x":22,"y":5.82,"l":5.32,"h":6.32},{"s":"FSBO","x":23,"y":5.96,"l":5.46,"h":6.46},{"s":"FSBO","x":24,"y":6.06,"l":5.56,"h":6.56},{"s":"FSBO","x":25,"y":6,"l":5.5,"h":6.5},{"s":"FSBO","x":26,"y":6,"l":5.5,"h":6.5},{"s":"FSBO","x":27,"y":6.04,"l":5.54,"h":6.54},{"s":"FSBO","x":28,"y":6.12,"l":5.62,"h":6.62},{"s":"FSBO","x":29,"y":6.12,"l":5.62,"h":6.62},{"s":"FSBO","x":30,"y":6.24,"l":5.74,"h":6.74},{"s":"FSBO","x":31,"y":6.36,"l":5.86,"h":6.86},{"s":"FSBO","x":32,"y":6.44,"l":5.94,"h":6.94},{"s":"FSBO","x":33,"y":6.48,"l":5.98,"h":6.98},{"s":"FSBO","x":34,"y":6.48,"l":5.98,"h":6.98},{"s":"FSBO","x":35,"y":6.44,"l":5.94,"h":6.94},{"s":"FSBO","x":36,"y":6,"l":5.5,"h":6.5},{"s":"FSBO","x":37,"y":6,"l":5.5,"h":6.5},{"s":"FSBO","x":38,"y":6.04,"l":5.54,"h":6.54},{"s":"FSBO","x":39,"y":6.24,"l":5.74,"h":6.74},{"s":"FSBO","x":40,"y":6.33,"l":5.83,"h":6.83},
{"s":"TNP","x":0,"y":5,"l":4.95,"h":5.05},{"s":"TNP","x":1,"y":3.5,"l":3.05,"h":3.95},{"s":"TNP","x":2,"y":3.5,"l":3.05,"h":3.95},{"s":"TNP","x":3,"y":3.9,"l":3.45,"h":4.35},{"s":"TNP","x":4,"y":3.95,"l":3.5,"h":4.4},{"s":"TNP","x":5,"y":3.75,"l":3.3,"h":4.2},{"s":"TNP","x":6,"y":3.65,"l":3.2,"h":4.1},{"s":"TNP","x":7,"y":3,"l":2.55,"h":3.45},{"s":"TNP","x":8,"y":2.55,"l":2.1,"h":3},{"s":"TNP","x":9,"y":2.4,"l":1.95,"h":2.85},{"s":"TNP","x":10,"y":2.35,"l":1.9,"h":2.8},{"s":"TNP","x":11,"y":2.3,"l":1.85,"h":2.75},{"s":"TNP","x":12,"y":2.3,"l":1.85,"h":2.75},{"s":"TNP","x":13,"y":2.3,"l":1.85,"h":2.75},{"s":"TNP","x":14,"y":2.3,"l":1.85,"h":2.75},{"s":"TNP","x":15,"y":2.3,"l":1.85,"h":2.75},{"s":"TNP","x":16,"y":2.3,"l":1.85,"h":2.75},{"s":"TNP","x":17,"y":2.35,"l":1.9,"h":2.8},{"s":"TNP","x":18,"y":2.45,"l":2,"h":2.9},{"s":"TNP","x":19,"y":2.45,"l":2,"h":2.9},{"s":"TNP","x":20,"y":2.45,"l":2,"h":2.9},{"s":"TNP","x":21,"y":2.35,"l":1.9,"h":2.8},{"s":"TNP","x":22,"y":2.35,"l":1.9,"h":2.8},{"s":"TNP","x":23,"y":2.45,"l":2,"h":2.9},{"s":"TNP","x":24,"y":2.55,"l":2.1,"h":3},{"s":"TNP","x":25,"y":2.62,"l":2.17,"h":3.07},{"s":"TNP","x":26,"y":2.65,"l":2.2,"h":3.1},{"s":"TNP","x":27,"y":2.65,"l":2.2,"h":3.1},{"s":"TNP","x":28,"y":2.7,"l":2.25,"h":3.15},{"s":"TNP","x":29,"y":2.8,"l":2.35,"h":3.25},{"s":"TNP","x":30,"y":2.85,"l":2.4,"h":3.3},{"s":"TNP","x":31,"y":2.85,"l":2.4,"h":3.3},{"s":"TNP","x":32,"y":3.05,"l":2.6,"h":3.5},{"s":"TNP","x":33,"y":3.1,"l":2.65,"h":3.55},{"s":"TNP","x":34,"y":3.1,"l":2.65,"h":3.55},{"s":"TNP","x":35,"y":3.12,"l":2.67,"h":3.57},{"s":"TNP","x":36,"y":3.2,"l":2.75,"h":3.65},{"s":"TNP","x":37,"y":3.3,"l":2.85,"h":3.75},{"s":"TNP","x":38,"y":3.32,"l":2.87,"h":3.77},{"s":"TNP","x":39,"y":3.35,"l":2.9,"h":3.8},{"s":"TNP","x":40,"y":3.35,"l":2.9,"h":3.8},
{"s":"TNP+","x":0,"y":5,"l":4.95,"h":5.05},{"s":"TNP+","x":1,"y":3.55,"l":3.1,"h":4},{"s":"TNP+","x":2,"y":4,"l":3.55,"h":4.45},{"s":"TNP+","x":3,"y":4.3,"l":3.85,"h":4.75},{"s":"TNP+","x":4,"y":4.25,"l":3.8,"h":4.7},{"s":"TNP+","x":5,"y":4.25,"l":3.8,"h":4.7},{"s":"TNP+","x":6,"y":4.35,"l":3.9,"h":4.8},{"s":"TNP+","x":7,"y":4.75,"l":4.3,"h":5.2},{"s":"TNP+","x":8,"y":4.95,"l":4.5,"h":5.4},{"s":"TNP+","x":9,"y":4.95,"l":4.5,"h":5.4},{"s":"TNP+","x":10,"y":4.95,"l":4.5,"h":5.4},{"s":"TNP+","x":11,"y":4.85,"l":4.4,"h":5.3},{"s":"TNP+","x":12,"y":4.85,"l":4.4,"h":5.3},{"s":"TNP+","x":13,"y":5,"l":4.55,"h":5.45},{"s":"TNP+","x":14,"y":4.95,"l":4.5,"h":5.4},{"s":"TNP+","x":15,"y":4.6,"l":4.15,"h":5.05},{"s":"TNP+","x":16,"y":4,"l":3.55,"h":4.45},{"s":"TNP+","x":17,"y":3.85,"l":3.4,"h":4.3},{"s":"TNP+","x":18,"y":3.85,"l":3.4,"h":4.3},{"s":"TNP+","x":19,"y":3.9,"l":3.45,"h":4.35},{"s":"TNP+","x":20,"y":3.9,"l":3.45,"h":4.35},{"s":"TNP+","x":21,"y":3.95,"l":3.5,"h":4.4},{"s":"TNP+","x":22,"y":4,"l":3.55,"h":4.45},{"s":"TNP+","x":23,"y":4.05,"l":3.6,"h":4.5},{"s":"TNP+","x":24,"y":4.15,"l":3.7,"h":4.6},{"s":"TNP+","x":25,"y":4.2,"l":3.75,"h":4.65},{"s":"TNP+","x":26,"y":4.25,"l":3.8,"h":4.7},{"s":"TNP+","x":27,"y":4.3,"l":3.85,"h":4.75},{"s":"TNP+","x":28,"y":4.35,"l":3.9,"h":4.8},{"s":"TNP+","x":29,"y":4.35,"l":3.9,"h":4.8},{"s":"TNP+","x":30,"y":4.35,"l":3.9,"h":4.8},{"s":"TNP+","x":31,"y":4.4,"l":3.95,"h":4.85},{"s":"TNP+","x":32,"y":4.45,"l":4,"h":4.9},{"s":"TNP+","x":33,"y":4.45,"l":4,"h":4.9},{"s":"TNP+","x":34,"y":4.45,"l":4,"h":4.9},{"s":"TNP+","x":35,"y":4.45,"l":4,"h":4.9},{"s":"TNP+","x":36,"y":4.5,"l":4.05,"h":4.95},{"s":"TNP+","x":37,"y":4.5,"l":4.05,"h":4.95},{"s":"TNP+","x":38,"y":4.2,"l":3.75,"h":4.65},{"s":"TNP+","x":39,"y":4.2,"l":3.75,"h":4.65},{"s":"TNP+","x":40,"y":4.2,"l":3.75,"h":4.65},
{"s":"MAF","x":0,"y":5,"l":4.95,"h":5.05},{"s":"MAF","x":1,"y":3.1,"l":2.65,"h":3.55},{"s":"MAF","x":2,"y":3.1,"l":2.65,"h":3.55},{"s":"MAF","x":3,"y":2.65,"l":2.2,"h":3.1},{"s":"MAF","x":4,"y":2.7,"l":2.25,"h":3.15},{"s":"MAF","x":5,"y":2.8,"l":2.35,"h":3.25},{"s":"MAF","x":6,"y":3,"l":2.55,"h":3.45},{"s":"MAF","x":7,"y":3.15,"l":2.7,"h":3.6},{"s":"MAF","x":8,"y":3.35,"l":2.9,"h":3.8},{"s":"MAF","x":9,"y":3.55,"l":3.1,"h":4},{"s":"MAF","x":10,"y":3.65,"l":3.2,"h":4.1},{"s":"MAF","x":11,"y":3.75,"l":3.3,"h":4.2},{"s":"MAF","x":12,"y":3.8,"l":3.35,"h":4.25},{"s":"MAF","x":13,"y":3.8,"l":3.35,"h":4.25},{"s":"MAF","x":14,"y":3.9,"l":3.45,"h":4.35},{"s":"MAF","x":15,"y":4.05,"l":3.6,"h":4.5},{"s":"MAF","x":16,"y":4.1,"l":3.65,"h":4.55},{"s":"MAF","x":17,"y":4.2,"l":3.75,"h":4.65},{"s":"MAF","x":18,"y":4.25,"l":3.8,"h":4.7},{"s":"MAF","x":19,"y":4.3,"l":3.85,"h":4.75},{"s":"MAF","x":20,"y":4.35,"l":3.9,"h":4.8},{"s":"MAF","x":21,"y":4.4,"l":3.95,"h":4.85},{"s":"MAF","x":22,"y":4.45,"l":4,"h":4.9},{"s":"MAF","x":23,"y":4.5,"l":4.05,"h":4.95},{"s":"MAF","x":24,"y":4.55,"l":4.1,"h":5},{"s":"MAF","x":25,"y":4.6,"l":4.15,"h":5.05},{"s":"MAF","x":26,"y":4.65,"l":4.2,"h":5.1},{"s":"MAF","x":27,"y":4.65,"l":4.2,"h":5.1},{"s":"MAF","x":28,"y":4.65,"l":4.2,"h":5.1},{"s":"MAF","x":29,"y":4.7,"l":4.25,"h":5.15},{"s":"MAF","x":30,"y":4.7,"l":4.25,"h":5.15},{"s":"MAF","x":31,"y":4.7,"l":4.25,"h":5.15},{"s":"MAF","x":32,"y":4.7,"l":4.25,"h":5.15},{"s":"MAF","x":33,"y":4.7,"l":4.25,"h":5.15},{"s":"MAF","x":34,"y":4.7,"l":4.25,"h":5.15},{"s":"MAF","x":35,"y":4.7,"l":4.25,"h":5.15},{"s":"MAF","x":36,"y":4.7,"l":4.25,"h":5.15},{"s":"MAF","x":37,"y":4.7,"l":4.25,"h":5.15},{"s":"MAF","x":38,"y":4.7,"l":4.25,"h":5.15},{"s":"MAF","x":39,"y":4.7,"l":4.25,"h":5.15},{"s":"MAF","x":40,"y":4.7,"l":4.25,"h":5.15},
{"s":"NAP","x":0,"y":5,"l":4.95,"h":5.05},{"s":"NAP","x":1,"y":4.4,"l":3.85,"h":4.95},{"s":"NAP","x":2,"y":5.35,"l":4.8,"h":5.9},{"s":"NAP","x":3,"y":4.6,"l":4.05,"h":5.15},{"s":"NAP","x":4,"y":4.35,"l":3.8,"h":4.9},{"s":"NAP","x":5,"y":4.1,"l":3.55,"h":4.65},{"s":"NAP","x":6,"y":3.85,"l":3.3,"h":4.4},{"s":"NAP","x":7,"y":4.2,"l":3.65,"h":4.75},{"s":"NAP","x":8,"y":3.85,"l":3.3,"h":4.4},{"s":"NAP","x":9,"y":3.8,"l":3.25,"h":4.35},{"s":"NAP","x":10,"y":3.8,"l":3.25,"h":4.35},{"s":"NAP","x":11,"y":3.85,"l":3.3,"h":4.4},{"s":"NAP","x":12,"y":3.9,"l":3.35,"h":4.45},{"s":"NAP","x":13,"y":3.95,"l":3.4,"h":4.5},{"s":"NAP","x":14,"y":3.75,"l":3.2,"h":4.3},{"s":"NAP","x":15,"y":3.75,"l":3.2,"h":4.3},{"s":"NAP","x":16,"y":3.7,"l":3.15,"h":4.25},{"s":"NAP","x":17,"y":3.75,"l":3.2,"h":4.3},{"s":"NAP","x":18,"y":3.85,"l":3.3,"h":4.4},{"s":"NAP","x":19,"y":4,"l":3.45,"h":4.55},{"s":"NAP","x":20,"y":4.15,"l":3.6,"h":4.7},{"s":"NAP","x":21,"y":4.35,"l":3.8,"h":4.9},{"s":"NAP","x":22,"y":4.5,"l":3.95,"h":5.05},{"s":"NAP","x":23,"y":4.6,"l":4.05,"h":5.15},{"s":"NAP","x":24,"y":4.75,"l":4.2,"h":5.3},{"s":"NAP","x":25,"y":4.75,"l":4.2,"h":5.3},{"s":"NAP","x":26,"y":4.8,"l":4.25,"h":5.35},{"s":"NAP","x":27,"y":4.8,"l":4.25,"h":5.35},{"s":"NAP","x":28,"y":4.8,"l":4.25,"h":5.35},{"s":"NAP","x":29,"y":4.8,"l":4.25,"h":5.35},{"s":"NAP","x":30,"y":4.85,"l":4.3,"h":5.4},{"s":"NAP","x":31,"y":4.95,"l":4.4,"h":5.5},{"s":"NAP","x":32,"y":5,"l":4.45,"h":5.55},{"s":"NAP","x":33,"y":5,"l":4.45,"h":5.55},{"s":"NAP","x":34,"y":5,"l":4.45,"h":5.55},{"s":"NAP","x":35,"y":5.05,"l":4.5,"h":5.6},{"s":"NAP","x":36,"y":5.1,"l":4.55,"h":5.65},{"s":"NAP","x":37,"y":5.1,"l":4.55,"h":5.65},{"s":"NAP","x":38,"y":5.15,"l":4.6,"h":5.7},{"s":"NAP","x":39,"y":5.2,"l":4.65,"h":5.75},{"s":"NAP","x":40,"y":5.2,"l":4.65,"h":5.75},
{"s":"ProfBO","x":0,"y":5,"l":4.95,"h":5.05},{"s":"ProfBO","x":1,"y":3.5,"l":3.2,"h":3.8},{"s":"ProfBO","x":2,"y":1.95,"l":1.65,"h":2.25},{"s":"ProfBO","x":3,"y":2.6,"l":2.3,"h":2.9},{"s":"ProfBO","x":4,"y":2.85,"l":2.55,"h":3.15},{"s":"ProfBO","x":5,"y":2.95,"l":2.65,"h":3.25},{"s":"ProfBO","x":6,"y":2.7,"l":2.4,"h":3},{"s":"ProfBO","x":7,"y":2.85,"l":2.55,"h":3.15},{"s":"ProfBO","x":8,"y":3.1,"l":2.8,"h":3.4},{"s":"ProfBO","x":9,"y":3.3,"l":3,"h":3.6},{"s":"ProfBO","x":10,"y":3.35,"l":3.05,"h":3.65},{"s":"ProfBO","x":11,"y":3.45,"l":3.15,"h":3.75},{"s":"ProfBO","x":12,"y":3.5,"l":3.2,"h":3.8},{"s":"ProfBO","x":13,"y":3.65,"l":3.35,"h":3.95},{"s":"ProfBO","x":14,"y":3.8,"l":3.5,"h":4.1},{"s":"ProfBO","x":15,"y":3.95,"l":3.65,"h":4.25},{"s":"ProfBO","x":16,"y":4.1,"l":3.8,"h":4.4},{"s":"ProfBO","x":17,"y":3.8,"l":3.5,"h":4.1},{"s":"ProfBO","x":18,"y":3.75,"l":3.45,"h":4.05},{"s":"ProfBO","x":19,"y":3.75,"l":3.45,"h":4.05},{"s":"ProfBO","x":20,"y":3.75,"l":3.45,"h":4.05},{"s":"ProfBO","x":21,"y":3.6,"l":3.3,"h":3.9},{"s":"ProfBO","x":22,"y":3.65,"l":3.35,"h":3.95},{"s":"ProfBO","x":23,"y":3.1,"l":2.8,"h":3.4},{"s":"ProfBO","x":24,"y":3.1,"l":2.8,"h":3.4},{"s":"ProfBO","x":25,"y":3.1,"l":2.8,"h":3.4},{"s":"ProfBO","x":26,"y":2.2,"l":1.9,"h":2.5},{"s":"ProfBO","x":27,"y":2.2,"l":1.9,"h":2.5},{"s":"ProfBO","x":28,"y":2.2,"l":1.9,"h":2.5},{"s":"ProfBO","x":29,"y":2.2,"l":1.9,"h":2.5},{"s":"ProfBO","x":30,"y":2.25,"l":1.95,"h":2.55},{"s":"ProfBO","x":31,"y":2.3,"l":2,"h":2.6},{"s":"ProfBO","x":32,"y":2.3,"l":2,"h":2.6},{"s":"ProfBO","x":33,"y":2.3,"l":2,"h":2.6},{"s":"ProfBO","x":34,"y":2.3,"l":2,"h":2.6},{"s":"ProfBO","x":35,"y":2.35,"l":2.05,"h":2.65},{"s":"ProfBO","x":36,"y":2.35,"l":2.05,"h":2.65},{"s":"ProfBO","x":37,"y":2.35,"l":2.05,"h":2.65},{"s":"ProfBO","x":38,"y":2.45,"l":2.15,"h":2.75},{"s":"ProfBO","x":39,"y":2.45,"l":2.15,"h":2.75},{"s":"ProfBO","x":40,"y":2.45,"l":2.15,"h":2.75}
],
"d":[
{"s":"Random","x":0,"y":0.274,"l":0.266,"h":0.282},{"s":"Random","x":1,"y":0.267,"l":0.259,"h":0.275},{"s":"Random","x":2,"y":0.265,"l":0.257,"h":0.273},{"s":"Random","x":3,"y":0.265,"l":0.257,"h":0.273},{"s":"Random","x":4,"y":0.262,"l":0.254,"h":0.27},{"s":"Random","x":5,"y":0.26,"l":0.252,"h":0.268},{"s":"Random","x":6,"y":0.254,"l":0.246,"h":0.262},{"s":"Random","x":7,"y":0.254,"l":0.246,"h":0.262},{"s":"Random","x":8,"y":0.251,"l":0.243,"h":0.259},{"s":"Random","x":9,"y":0.249,"l":0.242,"h":0.256},{"s":"Random","x":10,"y":0.247,"l":0.24,"h":0.254},{"s":"Random","x":11,"y":0.241,"l":0.234,"h":0.248},{"s":"Random","x":12,"y":0.239,"l":0.232,"h":0.246},{"s":"Random","x":13,"y":0.237,"l":0.23,"h":0.244},{"s":"Random","x":14,"y":0.234,"l":0.227,"h":0.241},{"s":"Random","x":15,"y":0.229,"l":0.222,"h":0.236},{"s":"Random","x":16,"y":0.225,"l":0.218,"h":0.232},{"s":"Random","x":17,"y":0.218,"l":0.211,"h":0.225},{"s":"Random","x":18,"y":0.215,"l":0.209,"h":0.221},{"s":"Random","x":19,"y":0.215,"l":0.209,"h":0.221},{"s":"Random","x":20,"y":0.213,"l":0.207,"h":0.219},{"s":"Random","x":21,"y":0.211,"l":0.205,"h":0.217},{"s":"Random","x":22,"y":0.207,"l":0.201,"h":0.213},{"s":"Random","x":23,"y":0.204,"l":0.198,"h":0.21},{"s":"Random","x":24,"y":0.203,"l":0.197,"h":0.209},{"s":"Random","x":25,"y":0.198,"l":0.192,"h":0.204},{"s":"Random","x":26,"y":0.196,"l":0.19,"h":0.202},{"s":"Random","x":27,"y":0.194,"l":0.188,"h":0.2},{"s":"Random","x":28,"y":0.194,"l":0.188,"h":0.2},{"s":"Random","x":29,"y":0.194,"l":0.188,"h":0.2},{"s":"Random","x":30,"y":0.193,"l":0.187,"h":0.199},{"s":"Random","x":31,"y":0.19,"l":0.184,"h":0.196},{"s":"Random","x":32,"y":0.19,"l":0.184,"h":0.196},{"s":"Random","x":33,"y":0.19,"l":0.184,"h":0.196},{"s":"Random","x":34,"y":0.19,"l":0.184,"h":0.196},{"s":"Random","x":35,"y":0.19,"l":0.184,"h":0.196},{"s":"Random","x":36,"y":0.19,"l":0.184,"h":0.196},{"s":"Random","x":37,"y":0.19,"l":0.184,"h":0.196},{"s":"Random","x":38,"y":0.188,"l":0.182,"h":0.194},{"s":"Random","x":39,"y":0.183,"l":0.178,"h":0.188},{"s":"Random","x":40,"y":0.183,"l":0.178,"h":0.188},
{"s":"GP","x":0,"y":0.274,"l":0.266,"h":0.282},{"s":"GP","x":1,"y":0.249,"l":0.234,"h":0.264},{"s":"GP","x":2,"y":0.229,"l":0.215,"h":0.243},{"s":"GP","x":3,"y":0.225,"l":0.212,"h":0.239},{"s":"GP","x":4,"y":0.222,"l":0.209,"h":0.235},{"s":"GP","x":5,"y":0.222,"l":0.209,"h":0.235},{"s":"GP","x":6,"y":0.22,"l":0.207,"h":0.233},{"s":"GP","x":7,"y":0.218,"l":0.205,"h":0.231},{"s":"GP","x":8,"y":0.213,"l":0.2,"h":0.226},{"s":"GP","x":9,"y":0.211,"l":0.198,"h":0.224},{"s":"GP","x":10,"y":0.207,"l":0.195,"h":0.219},{"s":"GP","x":11,"y":0.204,"l":0.192,"h":0.216},{"s":"GP","x":12,"y":0.203,"l":0.191,"h":0.215},{"s":"GP","x":13,"y":0.203,"l":0.191,"h":0.215},{"s":"GP","x":14,"y":0.198,"l":0.186,"h":0.21},{"s":"GP","x":15,"y":0.194,"l":0.182,"h":0.206},{"s":"GP","x":16,"y":0.19,"l":0.179,"h":0.201},{"s":"GP","x":17,"y":0.186,"l":0.175,"h":0.197},{"s":"GP","x":18,"y":0.186,"l":0.175,"h":0.197},{"s":"GP","x":19,"y":0.186,"l":0.175,"h":0.197},{"s":"GP","x":20,"y":0.185,"l":0.174,"h":0.196},{"s":"GP","x":21,"y":0.185,"l":0.174,"h":0.196},{"s":"GP","x":22,"y":0.183,"l":0.172,"h":0.194},{"s":"GP","x":23,"y":0.183,"l":0.172,"h":0.194},{"s":"GP","x":24,"y":0.179,"l":0.168,"h":0.19},{"s":"GP","x":25,"y":0.179,"l":0.168,"h":0.19},{"s":"GP","x":26,"y":0.177,"l":0.166,"h":0.188},{"s":"GP","x":27,"y":0.175,"l":0.165,"h":0.186},{"s":"GP","x":28,"y":0.173,"l":0.163,"h":0.183},{"s":"GP","x":29,"y":0.172,"l":0.162,"h":0.182},{"s":"GP","x":30,"y":0.17,"l":0.16,"h":0.18},{"s":"GP","x":31,"y":0.17,"l":0.16,"h":0.18},{"s":"GP","x":32,"y":0.168,"l":0.158,"h":0.178},{"s":"GP","x":33,"y":0.168,"l":0.158,"h":0.178},{"s":"GP","x":34,"y":0.166,"l":0.156,"h":0.176},{"s":"GP","x":35,"y":0.165,"l":0.155,"h":0.175},{"s":"GP","x":36,"y":0.165,"l":0.155,"h":0.175},{"s":"GP","x":37,"y":0.165,"l":0.155,"h":0.175},{"s":"GP","x":38,"y":0.163,"l":0.153,"h":0.173},{"s":"GP","x":39,"y":0.155,"l":0.146,"h":0.164},{"s":"GP","x":40,"y":0.135,"l":0.127,"h":0.143},
{"s":"Meta-GP","x":0,"y":0.274,"l":0.266,"h":0.282},{"s":"Meta-GP","x":1,"y":0.239,"l":0.222,"h":0.256},{"s":"Meta-GP","x":2,"y":0.215,"l":0.2,"h":0.23},{"s":"Meta-GP","x":3,"y":0.213,"l":0.198,"h":0.228},{"s":"Meta-GP","x":4,"y":0.211,"l":0.196,"h":0.226},{"s":"Meta-GP","x":5,"y":0.207,"l":0.193,"h":0.221},{"s":"Meta-GP","x":6,"y":0.194,"l":0.18,"h":0.208},{"s":"Meta-GP","x":7,"y":0.19,"l":0.177,"h":0.203},{"s":"Meta-GP","x":8,"y":0.186,"l":0.173,"h":0.199},{"s":"Meta-GP","x":9,"y":0.18,"l":0.167,"h":0.193},{"s":"Meta-GP","x":10,"y":0.175,"l":0.163,"h":0.187},{"s":"Meta-GP","x":11,"y":0.168,"l":0.156,"h":0.18},{"s":"Meta-GP","x":12,"y":0.166,"l":0.154,"h":0.178},{"s":"Meta-GP","x":13,"y":0.163,"l":0.152,"h":0.174},{"s":"Meta-GP","x":14,"y":0.161,"l":0.15,"h":0.172},{"s":"Meta-GP","x":15,"y":0.161,"l":0.15,"h":0.172},{"s":"Meta-GP","x":16,"y":0.161,"l":0.15,"h":0.172},{"s":"Meta-GP","x":17,"y":0.161,"l":0.15,"h":0.172},{"s":"Meta-GP","x":18,"y":0.158,"l":0.147,"h":0.169},{"s":"Meta-GP","x":19,"y":0.155,"l":0.144,"h":0.166},{"s":"Meta-GP","x":20,"y":0.155,"l":0.144,"h":0.166},{"s":"Meta-GP","x":21,"y":0.151,"l":0.14,"h":0.162},{"s":"Meta-GP","x":22,"y":0.145,"l":0.135,"h":0.155},{"s":"Meta-GP","x":23,"y":0.145,"l":0.135,"h":0.155},{"s":"Meta-GP","x":24,"y":0.137,"l":0.127,"h":0.147},{"s":"Meta-GP","x":25,"y":0.131,"l":0.122,"h":0.14},{"s":"Meta-GP","x":26,"y":0.13,"l":0.121,"h":0.139},{"s":"Meta-GP","x":27,"y":0.13,"l":0.121,"h":0.139},{"s":"Meta-GP","x":28,"y":0.128,"l":0.119,"h":0.137},{"s":"Meta-GP","x":29,"y":0.128,"l":0.119,"h":0.137},{"s":"Meta-GP","x":30,"y":0.128,"l":0.119,"h":0.137},{"s":"Meta-GP","x":31,"y":0.128,"l":0.119,"h":0.137},{"s":"Meta-GP","x":32,"y":0.126,"l":0.117,"h":0.135},{"s":"Meta-GP","x":33,"y":0.126,"l":0.117,"h":0.135},{"s":"Meta-GP","x":34,"y":0.113,"l":0.105,"h":0.121},{"s":"Meta-GP","x":35,"y":0.109,"l":0.101,"h":0.117},{"s":"Meta-GP","x":36,"y":0.108,"l":0.1,"h":0.116},{"s":"Meta-GP","x":37,"y":0.108,"l":0.1,"h":0.116},{"s":"Meta-GP","x":38,"y":0.108,"l":0.1,"h":0.116},{"s":"Meta-GP","x":39,"y":0.106,"l":0.099,"h":0.113},{"s":"Meta-GP","x":40,"y":0.106,"l":0.099,"h":0.113},
{"s":"FSBO","x":0,"y":0.274,"l":0.266,"h":0.282},{"s":"FSBO","x":1,"y":0.244,"l":0.232,"h":0.256},{"s":"FSBO","x":2,"y":0.229,"l":0.218,"h":0.24},{"s":"FSBO","x":3,"y":0.222,"l":0.211,"h":0.233},{"s":"FSBO","x":4,"y":0.215,"l":0.204,"h":0.226},{"s":"FSBO","x":5,"y":0.211,"l":0.2,"h":0.222},{"s":"FSBO","x":6,"y":0.211,"l":0.2,"h":0.222},{"s":"FSBO","x":7,"y":0.209,"l":0.199,"h":0.219},{"s":"FSBO","x":8,"y":0.207,"l":0.197,"h":0.217},{"s":"FSBO","x":9,"y":0.203,"l":0.193,"h":0.213},{"s":"FSBO","x":10,"y":0.194,"l":0.184,"h":0.204},{"s":"FSBO","x":11,"y":0.19,"l":0.181,"h":0.2},{"s":"FSBO","x":12,"y":0.186,"l":0.177,"h":0.195},{"s":"FSBO","x":13,"y":0.183,"l":0.174,"h":0.192},{"s":"FSBO","x":14,"y":0.179,"l":0.17,"h":0.188},{"s":"FSBO","x":15,"y":0.179,"l":0.17,"h":0.188},{"s":"FSBO","x":16,"y":0.175,"l":0.166,"h":0.184},{"s":"FSBO","x":17,"y":0.172,"l":0.163,"h":0.181},{"s":"FSBO","x":18,"y":0.168,"l":0.16,"h":0.176},{"s":"FSBO","x":19,"y":0.165,"l":0.157,"h":0.173},{"s":"FSBO","x":20,"y":0.163,"l":0.155,"h":0.171},{"s":"FSBO","x":21,"y":0.161,"l":0.153,"h":0.169},{"s":"FSBO","x":22,"y":0.161,"l":0.153,"h":0.169},{"s":"FSBO","x":23,"y":0.161,"l":0.153,"h":0.169},{"s":"FSBO","x":24,"y":0.161,"l":0.153,"h":0.169},{"s":"FSBO","x":25,"y":0.159,"l":0.151,"h":0.167},{"s":"FSBO","x":26,"y":0.159,"l":0.151,"h":0.167},{"s":"FSBO","x":27,"y":0.158,"l":0.15,"h":0.166},{"s":"FSBO","x":28,"y":0.157,"l":0.149,"h":0.165},{"s":"FSBO","x":29,"y":0.157,"l":0.149,"h":0.165},{"s":"FSBO","x":30,"y":0.155,"l":0.147,"h":0.163},{"s":"FSBO","x":31,"y":0.155,"l":0.147,"h":0.163},{"s":"FSBO","x":32,"y":0.155,"l":0.147,"h":0.163},{"s":"FSBO","x":33,"y":0.155,"l":0.147,"h":0.163},{"s":"FSBO","x":34,"y":0.155,"l":0.147,"h":0.163},{"s":"FSBO","x":35,"y":0.155,"l":0.147,"h":0.163},{"s":"FSBO","x":36,"y":0.145,"l":0.138,"h":0.152},{"s":"FSBO","x":37,"y":0.142,"l":0.135,"h":0.149},{"s":"FSBO","x":38,"y":0.139,"l":0.132,"h":0.146},{"s":"FSBO","x":39,"y":0.139,"l":0.132,"h":0.146},{"s":"FSBO","x":40,"y":0.139,"l":0.132,"h":0.146},
{"s":"TNP","x":0,"y":0.274,"l":0.266,"h":0.282},{"s":"TNP","x":1,"y":0.203,"l":0.183,"h":0.223},{"s":"TNP","x":2,"y":0.19,"l":0.171,"h":0.209},{"s":"TNP","x":3,"y":0.183,"l":0.165,"h":0.201},{"s":"TNP","x":4,"y":0.179,"l":0.161,"h":0.197},{"s":"TNP","x":5,"y":0.165,"l":0.145,"h":0.185},{"s":"TNP","x":6,"y":0.148,"l":0.125,"h":0.17},{"s":"TNP","x":7,"y":0.126,"l":0.1,"h":0.15},{"s":"TNP","x":8,"y":0.102,"l":0.08,"h":0.125},{"s":"TNP","x":9,"y":0.083,"l":0.064,"h":0.1},{"s":"TNP","x":10,"y":0.08,"l":0.06,"h":0.095},{"s":"TNP","x":11,"y":0.0718,"l":0.052,"h":0.088},{"s":"TNP","x":12,"y":0.0718,"l":0.052,"h":0.088},{"s":"TNP","x":13,"y":0.0718,"l":0.052,"h":0.088},{"s":"TNP","x":14,"y":0.0718,"l":0.052,"h":0.088},{"s":"TNP","x":15,"y":0.0718,"l":0.052,"h":0.088},{"s":"TNP","x":16,"y":0.0718,"l":0.052,"h":0.088},{"s":"TNP","x":17,"y":0.0718,"l":0.052,"h":0.088},{"s":"TNP","x":18,"y":0.0718,"l":0.052,"h":0.088},{"s":"TNP","x":19,"y":0.0718,"l":0.052,"h":0.088},{"s":"TNP","x":20,"y":0.062,"l":0.0436,"h":0.078},{"s":"TNP","x":21,"y":0.062,"l":0.0436,"h":0.078},{"s":"TNP","x":22,"y":0.062,"l":0.0436,"h":0.078},{"s":"TNP","x":23,"y":0.062,"l":0.0436,"h":0.078},{"s":"TNP","x":24,"y":0.062,"l":0.0436,"h":0.078},{"s":"TNP","x":25,"y":0.062,"l":0.0436,"h":0.078},{"s":"TNP","x":26,"y":0.062,"l":0.0436,"h":0.078},{"s":"TNP","x":27,"y":0.062,"l":0.0436,"h":0.078},{"s":"TNP","x":28,"y":0.062,"l":0.0436,"h":0.078},{"s":"TNP","x":29,"y":0.062,"l":0.0436,"h":0.078},{"s":"TNP","x":30,"y":0.062,"l":0.0436,"h":0.078},{"s":"TNP","x":31,"y":0.062,"l":0.0436,"h":0.078},{"s":"TNP","x":32,"y":0.062,"l":0.0436,"h":0.078},{"s":"TNP","x":33,"y":0.062,"l":0.0436,"h":0.078},{"s":"TNP","x":34,"y":0.062,"l":0.0436,"h":0.078},{"s":"TNP","x":35,"y":0.062,"l":0.0436,"h":0.078},{"s":"TNP","x":36,"y":0.062,"l":0.0436,"h":0.078},{"s":"TNP","x":37,"y":0.062,"l":0.0436,"h":0.078},{"s":"TNP","x":38,"y":0.062,"l":0.0436,"h":0.078},{"s":"TNP","x":39,"y":0.062,"l":0.0436,"h":0.078},{"s":"TNP","x":40,"y":0.062,"l":0.0436,"h":0.078},
{"s":"TNP+","x":0,"y":0.274,"l":0.266,"h":0.282},{"s":"TNP+","x":1,"y":0.22,"l":0.202,"h":0.238},{"s":"TNP+","x":2,"y":0.203,"l":0.187,"h":0.219},{"s":"TNP+","x":3,"y":0.19,"l":0.175,"h":0.205},{"s":"TNP+","x":4,"y":0.183,"l":0.168,"h":0.198},{"s":"TNP+","x":5,"y":0.179,"l":0.165,"h":0.193},{"s":"TNP+","x":6,"y":0.177,"l":0.163,"h":0.191},{"s":"TNP+","x":7,"y":0.175,"l":0.161,"h":0.189},{"s":"TNP+","x":8,"y":0.172,"l":0.158,"h":0.186},{"s":"TNP+","x":9,"y":0.168,"l":0.155,"h":0.181},{"s":"TNP+","x":10,"y":0.165,"l":0.152,"h":0.178},{"s":"TNP+","x":11,"y":0.161,"l":0.148,"h":0.174},{"s":"TNP+","x":12,"y":0.158,"l":0.145,"h":0.171},{"s":"TNP+","x":13,"y":0.151,"l":0.139,"h":0.163},{"s":"TNP+","x":14,"y":0.142,"l":0.131,"h":0.153},{"s":"TNP+","x":15,"y":0.123,"l":0.113,"h":0.133},{"s":"TNP+","x":16,"y":0.104,"l":0.096,"h":0.112},{"s":"TNP+","x":17,"y":0.1,"l":0.092,"h":0.108},{"s":"TNP+","x":18,"y":0.098,"l":0.09,"h":0.106},{"s":"TNP+","x":19,"y":0.098,"l":0.09,"h":0.106},{"s":"TNP+","x":20,"y":0.098,"l":0.09,"h":0.106},{"s":"TNP+","x":21,"y":0.098,"l":0.09,"h":0.106},{"s":"TNP+","x":22,"y":0.098,"l":0.09,"h":0.106},{"s":"TNP+","x":23,"y":0.098,"l":0.09,"h":0.106},{"s":"TNP+","x":24,"y":0.098,"l":0.09,"h":0.106},{"s":"TNP+","x":25,"y":0.098,"l":0.09,"h":0.106},{"s":"TNP+","x":26,"y":0.098,"l":0.09,"h":0.106},{"s":"TNP+","x":27,"y":0.098,"l":0.09,"h":0.106},{"s":"TNP+","x":28,"y":0.098,"l":0.09,"h":0.106},{"s":"TNP+","x":29,"y":0.098,"l":0.09,"h":0.106},{"s":"TNP+","x":30,"y":0.098,"l":0.09,"h":0.106},{"s":"TNP+","x":31,"y":0.098,"l":0.09,"h":0.106},{"s":"TNP+","x":32,"y":0.098,"l":0.09,"h":0.106},{"s":"TNP+","x":33,"y":0.098,"l":0.09,"h":0.106},{"s":"TNP+","x":34,"y":0.098,"l":0.09,"h":0.106},{"s":"TNP+","x":35,"y":0.098,"l":0.09,"h":0.106},{"s":"TNP+","x":36,"y":0.097,"l":0.089,"h":0.105},{"s":"TNP+","x":37,"y":0.092,"l":0.085,"h":0.099},{"s":"TNP+","x":38,"y":0.089,"l":0.082,"h":0.096},{"s":"TNP+","x":39,"y":0.089,"l":0.082,"h":0.096},{"s":"TNP+","x":40,"y":0.089,"l":0.082,"h":0.096},
{"s":"MAF","x":0,"y":0.274,"l":0.266,"h":0.282},{"s":"MAF","x":1,"y":0.158,"l":0.147,"h":0.169},{"s":"MAF","x":2,"y":0.119,"l":0.111,"h":0.127},{"s":"MAF","x":3,"y":0.118,"l":0.11,"h":0.126},{"s":"MAF","x":4,"y":0.117,"l":0.109,"h":0.125},{"s":"MAF","x":5,"y":0.117,"l":0.109,"h":0.125},{"s":"MAF","x":6,"y":0.116,"l":0.108,"h":0.124},{"s":"MAF","x":7,"y":0.113,"l":0.105,"h":0.121},{"s":"MAF","x":8,"y":0.111,"l":0.103,"h":0.119},{"s":"MAF","x":9,"y":0.111,"l":0.103,"h":0.119},{"s":"MAF","x":10,"y":0.111,"l":0.103,"h":0.119},{"s":"MAF","x":11,"y":0.111,"l":0.103,"h":0.119},{"s":"MAF","x":12,"y":0.111,"l":0.103,"h":0.119},{"s":"MAF","x":13,"y":0.111,"l":0.103,"h":0.119},{"s":"MAF","x":14,"y":0.111,"l":0.103,"h":0.119},{"s":"MAF","x":15,"y":0.111,"l":0.103,"h":0.119},{"s":"MAF","x":16,"y":0.111,"l":0.103,"h":0.119},{"s":"MAF","x":17,"y":0.111,"l":0.103,"h":0.119},{"s":"MAF","x":18,"y":0.111,"l":0.103,"h":0.119},{"s":"MAF","x":19,"y":0.111,"l":0.103,"h":0.119},{"s":"MAF","x":20,"y":0.111,"l":0.103,"h":0.119},{"s":"MAF","x":21,"y":0.111,"l":0.103,"h":0.119},{"s":"MAF","x":22,"y":0.111,"l":0.103,"h":0.119},{"s":"MAF","x":23,"y":0.111,"l":0.103,"h":0.119},{"s":"MAF","x":24,"y":0.111,"l":0.103,"h":0.119},{"s":"MAF","x":25,"y":0.111,"l":0.103,"h":0.119},{"s":"MAF","x":26,"y":0.111,"l":0.103,"h":0.119},{"s":"MAF","x":27,"y":0.111,"l":0.103,"h":0.119},{"s":"MAF","x":28,"y":0.111,"l":0.103,"h":0.119},{"s":"MAF","x":29,"y":0.111,"l":0.103,"h":0.119},{"s":"MAF","x":30,"y":0.111,"l":0.103,"h":0.119},{"s":"MAF","x":31,"y":0.111,"l":0.103,"h":0.119},{"s":"MAF","x":32,"y":0.111,"l":0.103,"h":0.119},{"s":"MAF","x":33,"y":0.111,"l":0.103,"h":0.119},{"s":"MAF","x":34,"y":0.111,"l":0.103,"h":0.119},{"s":"MAF","x":35,"y":0.111,"l":0.103,"h":0.119},{"s":"MAF","x":36,"y":0.1095,"l":0.102,"h":0.117},{"s":"MAF","x":37,"y":0.1086,"l":0.101,"h":0.116},{"s":"MAF","x":38,"y":0.1077,"l":0.1,"h":0.115},{"s":"MAF","x":39,"y":0.1064,"l":0.099,"h":0.114},{"s":"MAF","x":40,"y":0.1064,"l":0.099,"h":0.114},
{"s":"NAP","x":0,"y":0.274,"l":0.266,"h":0.282},{"s":"NAP","x":1,"y":0.229,"l":0.213,"h":0.245},{"s":"NAP","x":2,"y":0.211,"l":0.196,"h":0.226},{"s":"NAP","x":3,"y":0.203,"l":0.189,"h":0.217},{"s":"NAP","x":4,"y":0.179,"l":0.166,"h":0.192},{"s":"NAP","x":5,"y":0.155,"l":0.144,"h":0.166},{"s":"NAP","x":6,"y":0.153,"l":0.142,"h":0.164},{"s":"NAP","x":7,"y":0.151,"l":0.14,"h":0.162},{"s":"NAP","x":8,"y":0.142,"l":0.132,"h":0.152},{"s":"NAP","x":9,"y":0.139,"l":0.129,"h":0.149},{"s":"NAP","x":10,"y":0.139,"l":0.129,"h":0.149},{"s":"NAP","x":11,"y":0.139,"l":0.129,"h":0.149},{"s":"NAP","x":12,"y":0.139,"l":0.129,"h":0.149},{"s":"NAP","x":13,"y":0.131,"l":0.122,"h":0.14},{"s":"NAP","x":14,"y":0.119,"l":0.111,"h":0.127},{"s":"NAP","x":15,"y":0.119,"l":0.111,"h":0.127},{"s":"NAP","x":16,"y":0.119,"l":0.111,"h":0.127},{"s":"NAP","x":17,"y":0.119,"l":0.111,"h":0.127},{"s":"NAP","x":18,"y":0.119,"l":0.111,"h":0.127},{"s":"NAP","x":19,"y":0.119,"l":0.111,"h":0.127},{"s":"NAP","x":20,"y":0.119,"l":0.111,"h":0.127},{"s":"NAP","x":21,"y":0.119,"l":0.111,"h":0.127},{"s":"NAP","x":22,"y":0.119,"l":0.111,"h":0.127},{"s":"NAP","x":23,"y":0.119,"l":0.111,"h":0.127},{"s":"NAP","x":24,"y":0.119,"l":0.111,"h":0.127},{"s":"NAP","x":25,"y":0.119,"l":0.111,"h":0.127},{"s":"NAP","x":26,"y":0.117,"l":0.109,"h":0.125},{"s":"NAP","x":27,"y":0.117,"l":0.109,"h":0.125},{"s":"NAP","x":28,"y":0.117,"l":0.109,"h":0.125},{"s":"NAP","x":29,"y":0.117,"l":0.109,"h":0.125},{"s":"NAP","x":30,"y":0.117,"l":0.109,"h":0.125},{"s":"NAP","x":31,"y":0.117,"l":0.109,"h":0.125},{"s":"NAP","x":32,"y":0.117,"l":0.109,"h":0.125},{"s":"NAP","x":33,"y":0.117,"l":0.109,"h":0.125},{"s":"NAP","x":34,"y":0.117,"l":0.109,"h":0.125},{"s":"NAP","x":35,"y":0.117,"l":0.109,"h":0.125},{"s":"NAP","x":36,"y":0.117,"l":0.109,"h":0.125},{"s":"NAP","x":37,"y":0.117,"l":0.109,"h":0.125},{"s":"NAP","x":38,"y":0.117,"l":0.109,"h":0.125},{"s":"NAP","x":39,"y":0.117,"l":0.109,"h":0.125},{"s":"NAP","x":40,"y":0.117,"l":0.109,"h":0.125},
{"s":"ProfBO","x":0,"y":0.274,"l":0.266,"h":0.282},{"s":"ProfBO","x":1,"y":0.165,"l":0.14,"h":0.185},{"s":"ProfBO","x":2,"y":0.1205,"l":0.09,"h":0.14},{"s":"ProfBO","x":3,"y":0.118,"l":0.088,"h":0.138},{"s":"ProfBO","x":4,"y":0.117,"l":0.087,"h":0.137},{"s":"ProfBO","x":5,"y":0.117,"l":0.087,"h":0.137},{"s":"ProfBO","x":6,"y":0.116,"l":0.086,"h":0.136},{"s":"ProfBO","x":7,"y":0.106,"l":0.084,"h":0.13},{"s":"ProfBO","x":8,"y":0.105,"l":0.083,"h":0.13},{"s":"ProfBO","x":9,"y":0.105,"l":0.083,"h":0.13},{"s":"ProfBO","x":10,"y":0.105,"l":0.083,"h":0.13},{"s":"ProfBO","x":11,"y":0.105,"l":0.083,"h":0.13},{"s":"ProfBO","x":12,"y":0.105,"l":0.083,"h":0.13},{"s":"ProfBO","x":13,"y":0.105,"l":0.083,"h":0.13},{"s":"ProfBO","x":14,"y":0.105,"l":0.083,"h":0.13},{"s":"ProfBO","x":15,"y":0.105,"l":0.083,"h":0.13},{"s":"ProfBO","x":16,"y":0.1,"l":0.075,"h":0.12},{"s":"ProfBO","x":17,"y":0.093,"l":0.068,"h":0.112},{"s":"ProfBO","x":18,"y":0.093,"l":0.068,"h":0.112},{"s":"ProfBO","x":19,"y":0.093,"l":0.068,"h":0.112},{"s":"ProfBO","x":20,"y":0.092,"l":0.067,"h":0.111},{"s":"ProfBO","x":21,"y":0.081,"l":0.06,"h":0.1},{"s":"ProfBO","x":22,"y":0.08,"l":0.058,"h":0.099},{"s":"ProfBO","x":23,"y":0.0666,"l":0.048,"h":0.085},{"s":"ProfBO","x":24,"y":0.0666,"l":0.048,"h":0.085},{"s":"ProfBO","x":25,"y":0.0666,"l":0.048,"h":0.085},{"s":"ProfBO","x":26,"y":0.034,"l":0.0265,"h":0.042},{"s":"ProfBO","x":27,"y":0.034,"l":0.0265,"h":0.042},{"s":"ProfBO","x":28,"y":0.034,"l":0.0265,"h":0.042},{"s":"ProfBO","x":29,"y":0.034,"l":0.0265,"h":0.042},{"s":"ProfBO","x":30,"y":0.034,"l":0.0265,"h":0.042},{"s":"ProfBO","x":31,"y":0.034,"l":0.0265,"h":0.042},{"s":"ProfBO","x":32,"y":0.034,"l":0.0265,"h":0.042},{"s":"ProfBO","x":33,"y":0.034,"l":0.0265,"h":0.042},{"s":"ProfBO","x":34,"y":0.034,"l":0.0265,"h":0.042},{"s":"ProfBO","x":35,"y":0.034,"l":0.0265,"h":0.042},{"s":"ProfBO","x":36,"y":0.034,"l":0.0265,"h":0.042},{"s":"ProfBO","x":37,"y":0.034,"l":0.0265,"h":0.042},{"s":"ProfBO","x":38,"y":0.034,"l":0.0265,"h":0.042},{"s":"ProfBO","x":39,"y":0.034,"l":0.0265,"h":0.042},{"s":"ProfBO","x":40,"y":0.034,"l":0.0265,"h":0.042}
]
},
"bounds":"flush",
"spacing":51,
"hconcat":[
{"width":175,"height":208,"data":{"name":"a"},
"title":{"text":"COVID-19 Dataset Benchmark Results","anchor":"middle","frame":"group","dx":107.5,"offset":-11,"baseline":"alphabetic"},
"layer":[
{"mark":{"type":"area","opacity":0.12,"clip":true},"encoding":{
"x":{"field":"x","type":"quantitative","scale":{"domain":[-1.05,21.3],"nice":false,"zero":false},"axis":{"values":[0,3,6,9,12,15,18,21],"title":"#iterations"}},
"y":{"field":"l","type":"quantitative","scale":{"domain":[1.75,8.06],"nice":false,"zero":false},"axis":{"values":[2,3,4,5,6,7,8],"title":"Average Rank"}},
"y2":{"field":"h"},
"fill":{"field":"s","type":"nominal","scale":{"domain":["ProfBO","NAP","MAF","TNP+","TNP","FSBO","Meta-GP","GP","Random"],"range":["#ec4899","#f59e0b","#ef4444","#bef264","#3b82f6","#10b981","#8b5cf6","#b39ddb","#6b7280"]},"legend":null}}},
{"mark":{"type":"line","strokeWidth":2.2,"clip":true},"encoding":{
"x":{"field":"x","type":"quantitative","scale":{"domain":[-1.05,21.3],"nice":false,"zero":false},"axis":{"values":[0,3,6,9,12,15,18,21],"title":"#iterations"}},
"y":{"field":"y","type":"quantitative","scale":{"domain":[1.75,8.06],"nice":false,"zero":false},"axis":{"values":[2,3,4,5,6,7,8],"title":"Average Rank"}},
"stroke":{"field":"s","type":"nominal","scale":{"domain":["Random","GP","Meta-GP","FSBO","TNP","TNP+","MAF","NAP","ProfBO"],"range":["#6b7280","#b39ddb","#8b5cf6","#10b981","#3b82f6","#bef264","#ef4444","#f59e0b","#ec4899"]},"legend":{"title":null,"orient":"none","legendX":-52,"legendY":242,"labelExpr":"datum.label == 'ProfBO' ? 'ProfBO (Our Method)' : datum.label"}}}}
]},
{"width":175,"height":208,"data":{"name":"b"},
"layer":[
{"mark":{"type":"area","opacity":0.12,"clip":true},"encoding":{
"x":{"field":"x","type":"quantitative","scale":{"domain":[-1.0,21.3],"nice":false,"zero":false},"axis":{"values":[0,3,6,9,12,15,18,21],"title":"#iterations"}},
"y":{"field":"l","type":"quantitative","scale":{"type":"log","domain":[0.0953,0.39],"nice":false},"axis":{"values":[0.1,0.2,0.3],"labelExpr":"datum.value == 0.1 ? '10⁻¹' : ''","title":"Average Regret"}},
"y2":{"field":"h"},
"fill":{"field":"s","type":"nominal","scale":{"domain":["ProfBO","NAP","MAF","TNP+","TNP","FSBO","Meta-GP","GP","Random"],"range":["#ec4899","#f59e0b","#ef4444","#bef264","#3b82f6","#10b981","#8b5cf6","#b39ddb","#6b7280"]},"legend":null}}},
{"mark":{"type":"line","strokeWidth":2.2,"clip":true},"encoding":{
"x":{"field":"x","type":"quantitative","scale":{"domain":[-1.0,21.3],"nice":false,"zero":false},"axis":{"values":[0,3,6,9,12,15,18,21],"title":"#iterations"}},
"y":{"field":"y","type":"quantitative","scale":{"type":"log","domain":[0.0953,0.39],"nice":false},"axis":{"values":[0.1,0.2,0.3],"labelExpr":"datum.value == 0.1 ? '10⁻¹' : ''","title":"Average Regret"}},
"stroke":{"field":"s","type":"nominal","scale":{"domain":["Random","GP","Meta-GP","FSBO","TNP","TNP+","MAF","NAP","ProfBO"],"range":["#6b7280","#b39ddb","#8b5cf6","#10b981","#3b82f6","#bef264","#ef4444","#f59e0b","#ec4899"]},"legend":{"title":null,"orient":"none","legendX":-52,"legendY":242,"labelExpr":"datum.label == 'ProfBO' ? 'ProfBO (Our Method)' : datum.label"}}}}
]},
{"width":1,"height":208,"data":{"values":[]},"mark":"point","view":{"stroke":null}},
{"width":175,"height":208,"data":{"name":"c"},
"title":{"text":"Cancer Dataset Benchmark Results","anchor":"middle","frame":"group","dx":105.5,"offset":-6,"baseline":"alphabetic"},
"layer":[
{"mark":{"type":"area","opacity":0.12,"clip":true},"encoding":{
"x":{"field":"x","type":"quantitative","scale":{"domain":[-2.1,42.4],"nice":false,"zero":false},"axis":{"values":[0,5,10,15,20,25,30,35,40],"title":"#iterations"}},
"y":{"field":"l","type":"quantitative","scale":{"domain":[1.44,8.86],"nice":false,"zero":false},"axis":{"values":[2,4,6,8],"title":"Average Rank"}},
"y2":{"field":"h"},
"fill":{"field":"s","type":"nominal","scale":{"domain":["ProfBO","NAP","MAF","TNP+","TNP","FSBO","Meta-GP","GP","Random"],"range":["#ec4899","#f59e0b","#ef4444","#bef264","#3b82f6","#10b981","#8b5cf6","#b39ddb","#6b7280"]},"legend":null}}},
{"mark":{"type":"line","clip":true},"encoding":{
"x":{"field":"x","type":"quantitative","scale":{"domain":[-2.1,42.4],"nice":false,"zero":false},"axis":{"values":[0,5,10,15,20,25,30,35,40],"title":"#iterations"}},
"y":{"field":"y","type":"quantitative","scale":{"domain":[1.44,8.86],"nice":false,"zero":false},"axis":{"values":[2,4,6,8],"title":"Average Rank"}},
"strokeWidth":{"condition":{"test":"datum.s === 'ProfBO'","value":3.6},"value":2.2},
"stroke":{"field":"s","type":"nominal","scale":{"domain":["Random","GP","Meta-GP","FSBO","TNP","TNP+","MAF","NAP","ProfBO"],"range":["#6b7280","#b39ddb","#8b5cf6","#10b981","#3b82f6","#bef264","#ef4444","#f59e0b","#ec4899"]},"legend":{"title":null,"orient":"none","legendX":-52,"legendY":242,"labelExpr":"datum.label == 'ProfBO' ? 'ProfBO (Our Method)' : datum.label"}}}}
]},
{"width":175,"height":208,"data":{"name":"d"},
"layer":[
{"mark":{"type":"area","opacity":0.12,"clip":true},"encoding":{
"x":{"field":"x","type":"quantitative","scale":{"domain":[-2.1,41.7],"nice":false,"zero":false},"axis":{"values":[0,5,10,15,20,25,30,35,40],"title":"#iterations"}},
"y":{"field":"l","type":"quantitative","scale":{"type":"log","domain":[0.0239,0.318],"nice":false},"axis":{"values":[0.03,0.04,0.05,0.06,0.07,0.08,0.09,0.1,0.2,0.3],"labelExpr":"datum.value == 0.1 ? '10⁻¹' : ''","title":"Average Regret"}},
"y2":{"field":"h"},
"fill":{"field":"s","type":"nominal","scale":{"domain":["ProfBO","NAP","MAF","TNP+","TNP","FSBO","Meta-GP","GP","Random"],"range":["#ec4899","#f59e0b","#ef4444","#bef264","#3b82f6","#10b981","#8b5cf6","#b39ddb","#6b7280"]},"legend":null}}},
{"mark":{"type":"line","clip":true},"encoding":{
"x":{"field":"x","type":"quantitative","scale":{"domain":[-2.1,41.7],"nice":false,"zero":false},"axis":{"values":[0,5,10,15,20,25,30,35,40],"title":"#iterations"}},
"y":{"field":"y","type":"quantitative","scale":{"type":"log","domain":[0.0239,0.318],"nice":false},"axis":{"values":[0.03,0.04,0.05,0.06,0.07,0.08,0.09,0.1,0.2,0.3],"labelExpr":"datum.value == 0.1 ? '10⁻¹' : ''","title":"Average Regret"}},
"strokeWidth":{"condition":{"test":"datum.s === 'ProfBO'","value":3.6},"value":2.2},
"stroke":{"field":"s","type":"nominal","scale":{"domain":["Random","GP","Meta-GP","FSBO","TNP","TNP+","MAF","NAP","ProfBO"],"range":["#6b7280","#b39ddb","#8b5cf6","#10b981","#3b82f6","#bef264","#ef4444","#f59e0b","#ec4899"]},"legend":{"title":null,"orient":"none","legendX":-52,"legendY":242,"labelExpr":"datum.label == 'ProfBO' ? 'ProfBO (Our Method)' : datum.label"}}}}
]}
]
}
